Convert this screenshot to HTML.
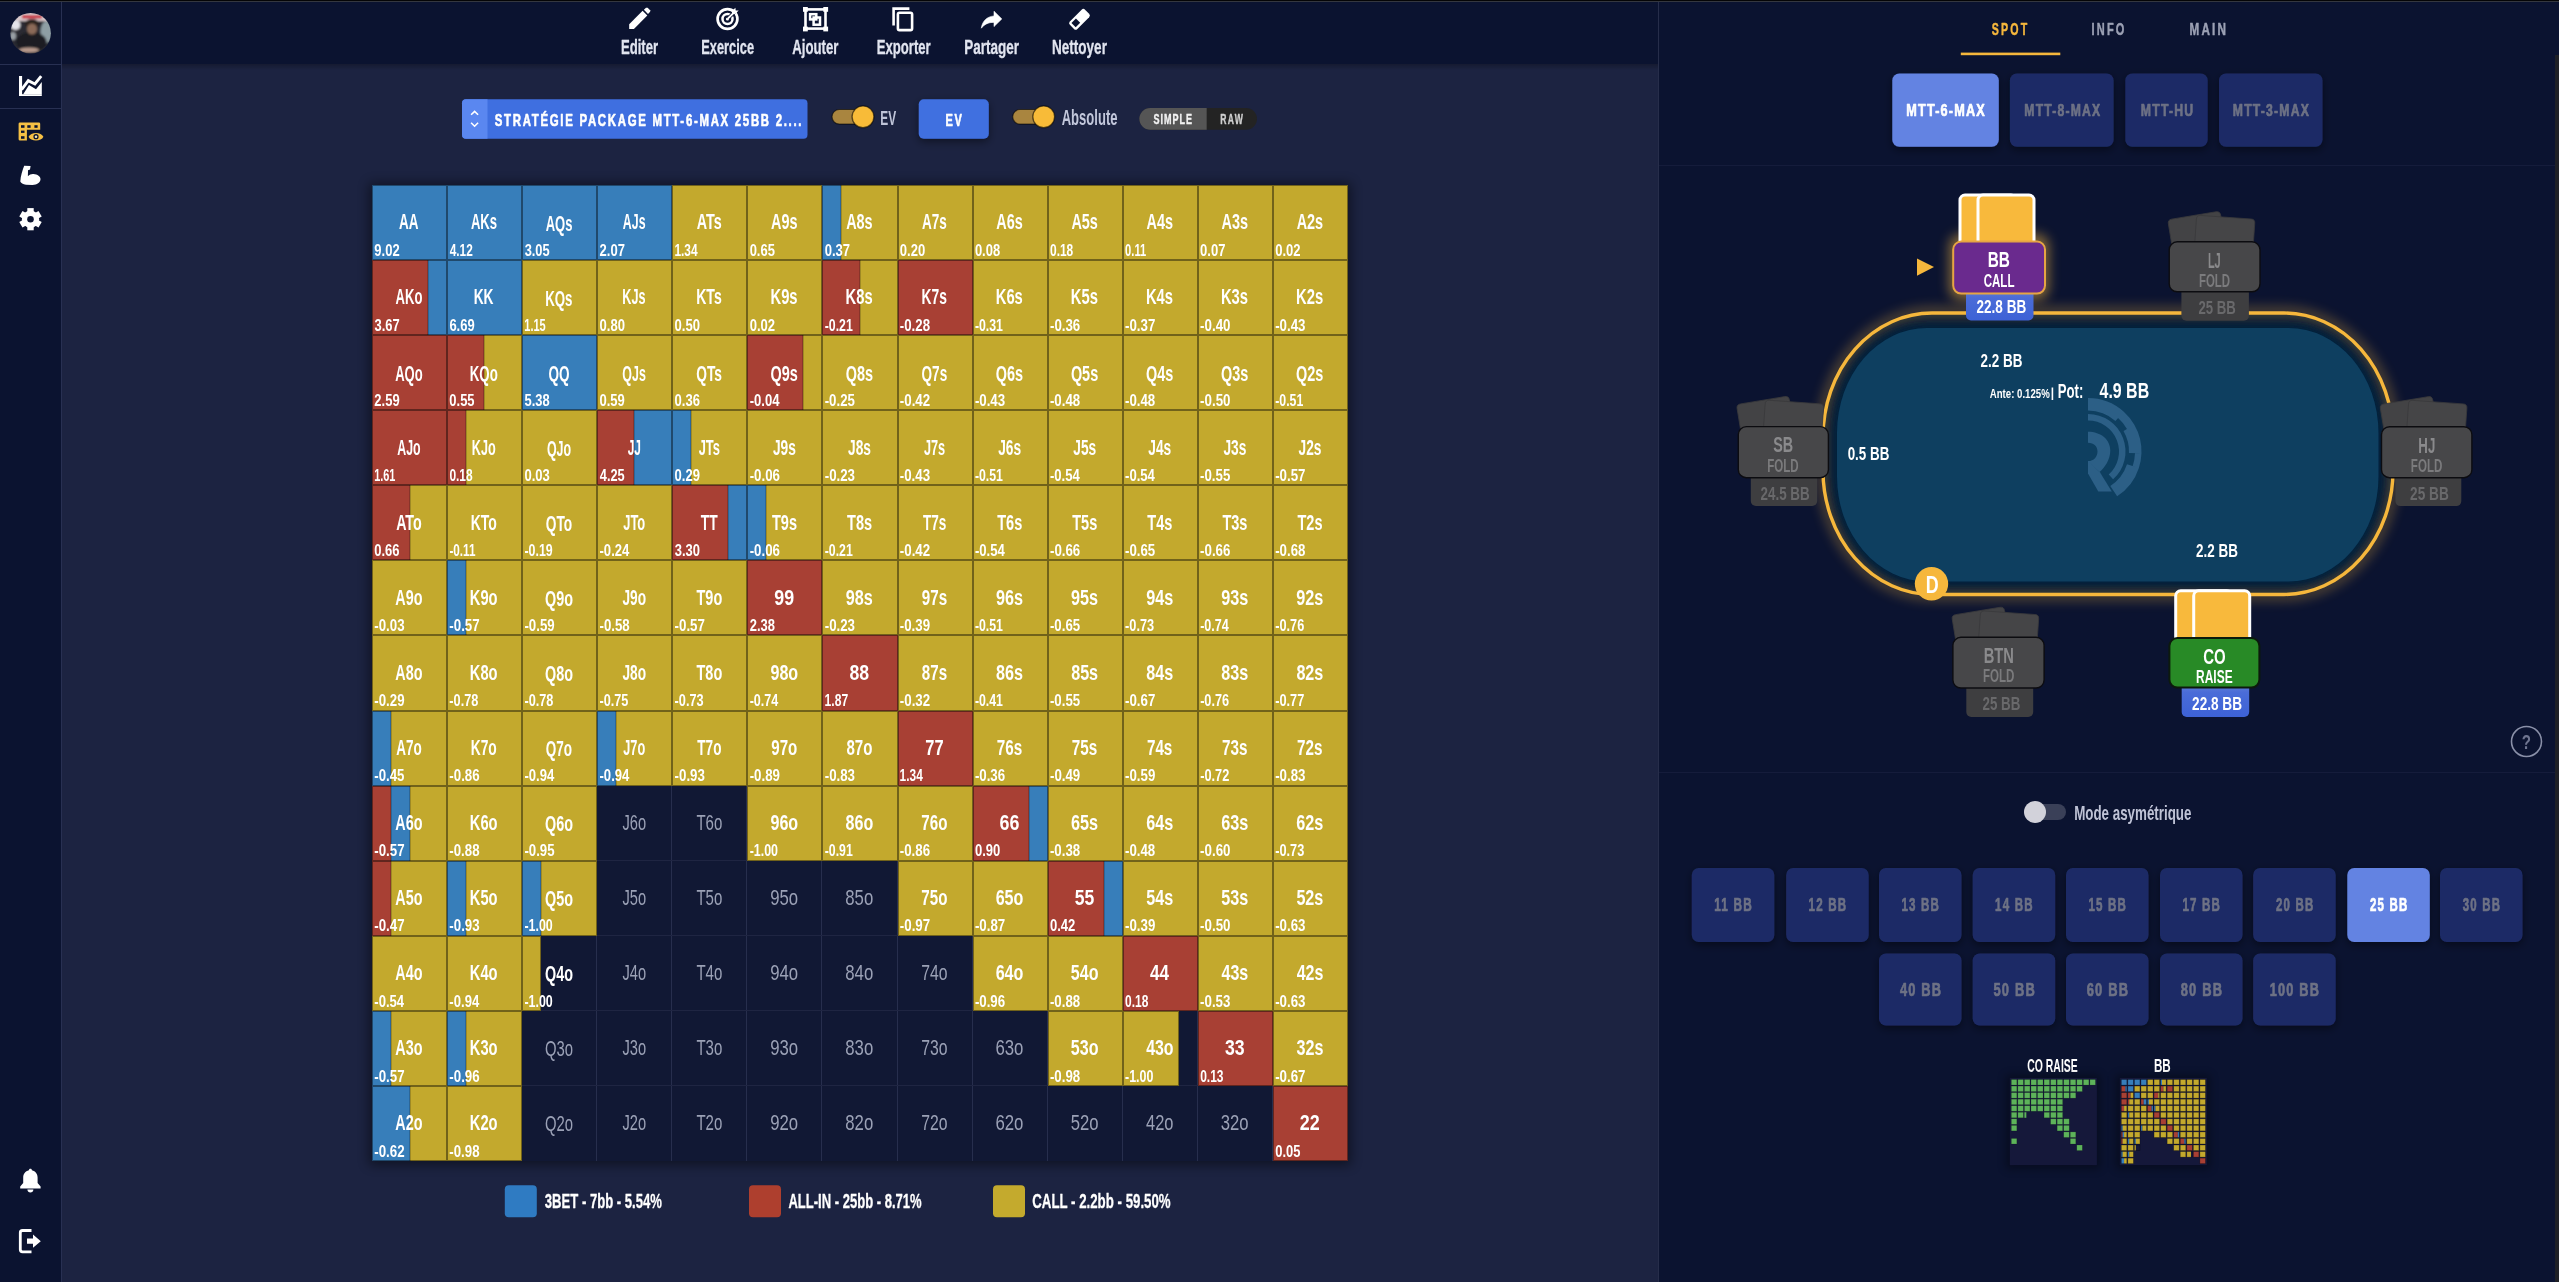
<!DOCTYPE html>
<html lang="fr"><head><meta charset="utf-8"><title>Range Viewer</title>
<style>
html,body{margin:0;padding:0;background:#1c2341;overflow:hidden;}
body{width:2559px;height:1282px;}
svg{display:block;font-family:"Liberation Sans",sans-serif;will-change:transform;}
text{font-family:"Liberation Sans",sans-serif;}
</style></head>
<body>
<svg width="2559" height="1282" viewBox="0 0 2559 1282">

<defs>
  <filter id="glow" x="-20%" y="-40%" width="140%" height="180%">
    <feGaussianBlur stdDeviation="4" result="b"/>
    <feMerge><feMergeNode in="b"/><feMergeNode in="SourceGraphic"/></feMerge>
  </filter>
  <filter id="blur6" x="-50%" y="-50%" width="200%" height="200%"><feGaussianBlur stdDeviation="6"/></filter>
  <filter id="blur4" x="-50%" y="-50%" width="200%" height="200%"><feGaussianBlur stdDeviation="4"/></filter>
  <filter id="blur3" x="-50%" y="-50%" width="200%" height="200%"><feGaussianBlur stdDeviation="3"/></filter>
  <filter id="blur2" x="-50%" y="-50%" width="200%" height="200%"><feGaussianBlur stdDeviation="2"/></filter>
  <filter id="shadow" x="-30%" y="-30%" width="160%" height="160%">
    <feDropShadow dx="0" dy="3" stdDeviation="4" flood-color="#000" flood-opacity="0.45"/>
  </filter>
  <linearGradient id="stackBlue" x1="0" y1="0" x2="0" y2="1">
    <stop offset="0" stop-color="#6b86d4"/><stop offset="0.35" stop-color="#4a6cd8"/><stop offset="1" stop-color="#3d62d6"/>
  </linearGradient>
  <linearGradient id="tbShadow" x1="0" y1="0" x2="0" y2="1">
    <stop offset="0" stop-color="#000" stop-opacity="0.25"/><stop offset="1" stop-color="#000" stop-opacity="0"/>
  </linearGradient>
  <radialGradient id="avatar" cx="0.5" cy="0.55" r="0.6">
    <stop offset="0" stop-color="#5a5560"/><stop offset="0.6" stop-color="#2c2c34"/><stop offset="1" stop-color="#1a1c24"/>
  </radialGradient>
</defs>

<rect x="0" y="0" width="2559" height="1282" fill="#1c2341"/>
<rect x="0" y="0" width="61" height="1282" fill="#0b1330"/>
<rect x="61" y="0" width="1" height="1282" fill="#283052"/>
<rect x="0" y="64" width="61" height="1" fill="#283052"/>
<rect x="0" y="108" width="61" height="1" fill="#283052"/>
<clipPath id="avc"><circle cx="30.6" cy="33.2" r="20.3"/></clipPath>
<filter id="avblur" x="-20%" y="-20%" width="140%" height="140%"><feGaussianBlur stdDeviation="0.9"/></filter>
<g clip-path="url(#avc)"><g filter="url(#avblur)"><rect x="9" y="11" width="44" height="44" fill="#2a2b33"/><rect x="16" y="12" width="32" height="9" fill="#d9c9cc"/><rect x="22" y="15.2" width="20" height="3.2" fill="#c61f32"/><ellipse cx="15.5" cy="25" rx="5" ry="5" fill="#e4e4ea"/><ellipse cx="46.5" cy="32" rx="6" ry="11" fill="#8e9ea4"/><ellipse cx="13" cy="36" rx="3" ry="4" fill="#9aa0a6"/><ellipse cx="31.5" cy="42" rx="15" ry="10" fill="#1c1c22"/><ellipse cx="32" cy="23.5" rx="7" ry="4.5" fill="#2a211c"/><ellipse cx="32" cy="29" rx="5" ry="5.5" fill="#8b6a58"/><ellipse cx="29" cy="50" rx="10" ry="2.6" fill="#b89a8c"/></g></g>
<g fill="#fff"><rect x="19" y="76" width="3.1" height="20"/><rect x="19" y="94.2" width="22.8" height="1.8"/><polygon points="23.2,94.3 29,85 36,89.3 41.8,82 41.8,94.3"/></g><polyline points="21.6,89.6 28.3,80.6 34.9,84 41.2,76.2" fill="none" stroke="#fff" stroke-width="2.9" stroke-linejoin="miter"/>
<path d="M20,122.4 H38.8 Q40.2,122.4 40.2,123.8 V129.7 H26.9 V140.6 H20 Q18.6,140.6 18.6,139.2 V123.8 Q18.6,122.4 20,122.4 Z" fill="#f6c044"/>
<rect x="21" y="125.2" width="3.5" height="2.5999999999999943" fill="#0b1330"/>
<rect x="27.3" y="125.2" width="3.3000000000000007" height="2.5999999999999943" fill="#0b1330"/>
<rect x="34.4" y="125.2" width="3.200000000000003" height="2.5999999999999943" fill="#0b1330"/>
<rect x="21" y="130.6" width="3.5" height="2.3000000000000114" fill="#0b1330"/>
<rect x="21" y="136.2" width="3.5" height="2.6000000000000227" fill="#0b1330"/>
<path d="M28.6,136.7 C30.6,131.6 41.4,131.6 43.4,136.7 C41.4,141.8 30.6,141.8 28.6,136.7 Z" fill="#f6c044"/>
<circle cx="36" cy="136.7" r="2.6" fill="#0b1330"/><circle cx="36" cy="136.7" r="1.3" fill="#f3e7b0"/>
<path d="M24.2,165.8 L30.6,166 L30,169.5 L28,170.3 L27.9,176.3 C29.5,174.5 31.5,173.8 33.5,174 C37.5,174.3 40.6,176.5 40.5,179.2 C40.3,182.6 37,184.8 32.5,184.9 L26,184.7 C23,184.3 20.8,183.2 20.3,181.6 C20.6,176 22.5,170 24.2,165.8 Z" fill="#fff"/>
<circle cx="30.5" cy="219.2" r="8.6" fill="#fff"/>
<rect x="27.3" y="208.1" width="6.4" height="11.1" fill="#fff" transform="rotate(0.0 30.5 219.2)"/>
<rect x="27.3" y="208.1" width="6.4" height="11.1" fill="#fff" transform="rotate(60.0 30.5 219.2)"/>
<rect x="27.3" y="208.1" width="6.4" height="11.1" fill="#fff" transform="rotate(120.0 30.5 219.2)"/>
<rect x="27.3" y="208.1" width="6.4" height="11.1" fill="#fff" transform="rotate(180.0 30.5 219.2)"/>
<rect x="27.3" y="208.1" width="6.4" height="11.1" fill="#fff" transform="rotate(240.0 30.5 219.2)"/>
<rect x="27.3" y="208.1" width="6.4" height="11.1" fill="#fff" transform="rotate(300.0 30.5 219.2)"/>
<circle cx="30.5" cy="219.2" r="3.3" fill="#0b1330"/>
<path d="M30.4,1168.8 C31.4,1168.8 31.9,1169.5 31.9,1170.2 C35.6,1171 37.6,1174 37.6,1177.6 L37.6,1183 L40.6,1186.5 L40.6,1188.6 L20.2,1188.6 L20.2,1186.5 L23.2,1183 L23.2,1177.6 C23.2,1174 25.2,1171 28.9,1170.2 C28.9,1169.5 29.4,1168.8 30.4,1168.8 Z" fill="#fff"/>
<path d="M27.4,1189.6 H33.4 C33.4,1191.3 32,1192.6 30.4,1192.6 C28.8,1192.6 27.4,1191.3 27.4,1189.6 Z" fill="#fff"/>
<path d="M31.5,1230.5 H22.5 Q20.3,1230.5 20.3,1232.7 V1249.6 Q20.3,1251.8 22.5,1251.8 H31.5" fill="none" stroke="#fff" stroke-width="2.8"/>
<path d="M27,1238.6 H33 V1234.6 L40.8,1241.2 L33,1247.8 V1243.8 H27 Z" fill="#fff"/>
<rect x="62" y="0" width="1596" height="64" fill="#0b1330"/>
<rect x="62" y="64" width="1596" height="6" fill="url(#tbShadow)"/>
<text x="620.90" y="53.75" font-size="20.43" font-weight="700" stroke="#e2e5f0" stroke-width="0.3" stroke-linejoin="round" textLength="37.24" lengthAdjust="spacingAndGlyphs" fill="#e2e5f0" >Editer</text>
<text x="701.21" y="53.75" font-size="20.43" font-weight="700" stroke="#e2e5f0" stroke-width="0.3" stroke-linejoin="round" textLength="52.88" lengthAdjust="spacingAndGlyphs" fill="#e2e5f0" >Exercice</text>
<text x="792.32" y="53.75" font-size="20.43" font-weight="700" stroke="#e2e5f0" stroke-width="0.3" stroke-linejoin="round" textLength="46.13" lengthAdjust="spacingAndGlyphs" fill="#e2e5f0" >Ajouter</text>
<text x="876.80" y="53.75" font-size="20.43" font-weight="700" stroke="#e2e5f0" stroke-width="0.3" stroke-linejoin="round" textLength="53.81" lengthAdjust="spacingAndGlyphs" fill="#e2e5f0" >Exporter</text>
<text x="964.27" y="53.75" font-size="20.43" font-weight="700" stroke="#e2e5f0" stroke-width="0.3" stroke-linejoin="round" textLength="54.75" lengthAdjust="spacingAndGlyphs" fill="#e2e5f0" >Partager</text>
<text x="1052.07" y="53.75" font-size="20.43" font-weight="700" stroke="#e2e5f0" stroke-width="0.3" stroke-linejoin="round" textLength="54.84" lengthAdjust="spacingAndGlyphs" fill="#e2e5f0" >Nettoyer</text>
<polygon points="629.2,28.9 629.2,24.2 642.6,10.8 647.3,15.5 633.9,28.9" fill="#fff"/>
<polygon points="643.9,9.8 646.0,7.7 647.6,7.7 650.1,10.2 650.1,11.8 648.0,13.9" fill="#fff"/>
<circle cx="727.5" cy="19.0" r="9.9" fill="none" stroke="#fff" stroke-width="2.7"/>
<circle cx="727.5" cy="19.0" r="5.0" fill="none" stroke="#fff" stroke-width="2.5"/>
<circle cx="727.5" cy="19.0" r="1.6" fill="#fff"/>
<line x1="728" y1="18.5" x2="734.8" y2="11.7" stroke="#0b1330" stroke-width="3.6"/>
<line x1="727.8" y1="18.7" x2="734.5" y2="12" stroke="#fff" stroke-width="1.9"/>
<polygon points="731.6,11.2 735.4,7.7 735.7,10.4 738.7,10.6 735.2,14.1 732.4,13.9" fill="#fff"/>
<rect x="805.5" y="9.4" width="20.0" height="19.2" fill="none" stroke="#fff" stroke-width="2.6"/>
<rect x="803" y="7" width="4.8" height="4.8" fill="#fff"/>
<rect x="823.3" y="7" width="4.8" height="4.8" fill="#fff"/>
<rect x="803" y="26.6" width="4.8" height="4.8" fill="#fff"/>
<rect x="823.3" y="26.6" width="4.8" height="4.8" fill="#fff"/>
<rect x="810.1" y="14.2" width="6.2" height="5.2" fill="none" stroke="#fff" stroke-width="2.5"/>
<rect x="813.6" y="17.5" width="6.4" height="7.2" fill="none" stroke="#fff" stroke-width="2.5"/>
<path d="M893.6,25.5 V8.6 H909.4" fill="none" stroke="#fff" stroke-width="2.6"/>
<rect x="897.9" y="12.7" width="14.2" height="17.4" rx="1.6" fill="none" stroke="#fff" stroke-width="2.6"/>
<path d="M994,11.2 L1001.8,18.9 L994,26.6 L994,22.4 C988.5,22.2 984.4,24.2 981.3,28.2 C982.3,21.2 986.8,16.5 994,16.0 Z" fill="#fff" stroke="#fff" stroke-width="0.6" stroke-linejoin="round"/>
<g transform="rotate(-45 1079.5 19.3)"><rect x="1068.8" y="14.0" width="21.4" height="10.6" rx="2.4" fill="#fff"/><rect x="1071.1" y="16.3" width="6.4" height="6.0" fill="#0b1330"/></g>
<rect x="462" y="99.3" width="345.5" height="39.5" rx="4" fill="#3f6fe0"/>
<path d="M466,99.3 H487.5 V138.8 H466 Q462,138.8 462,134.8 V103.3 Q462,99.3 466,99.3 Z" fill="#5a87f0"/>
<polyline points="471.1,114.8 474.6,111.4 478.1,114.8" fill="none" stroke="#fff" stroke-width="1.6"/>
<polyline points="471.1,122.8 474.6,126.2 478.1,122.8" fill="none" stroke="#fff" stroke-width="1.6"/>
<text x="494.76" y="125.60" font-size="16.09" font-weight="700" letter-spacing="2.40" stroke="#ffffff" stroke-width="0.6" stroke-linejoin="round" textLength="308.44" lengthAdjust="spacingAndGlyphs" fill="#ffffff" >STRATÉGIE PACKAGE MTT-6-MAX 25BB 2....</text>
<rect x="832" y="109.5" width="36" height="14.6" rx="7.3" fill="#a9853f" stroke="rgba(0,0,0,0.55)" stroke-width="1.2"/>
<circle cx="863" cy="116.8" r="10.9" fill="#f8bb38" stroke="rgba(0,0,0,0.6)" stroke-width="1.3"/>
<text x="880.23" y="124.70" font-size="21.01" font-weight="700" textLength="15.88" lengthAdjust="spacingAndGlyphs" fill="#bfc4d8" >EV</text>
<rect x="918.8" y="99.3" width="70" height="39.5" rx="5" fill="#3f6fe0" filter="url(#shadow)"/>
<text x="945.58" y="125.60" font-size="16.09" font-weight="700" letter-spacing="2.19" stroke="#ffffff" stroke-width="0.6" stroke-linejoin="round" textLength="17.72" lengthAdjust="spacingAndGlyphs" fill="#ffffff" >EV</text>
<rect x="1012.7" y="109.5" width="36.299999999999955" height="14.6" rx="7.3" fill="#a9853f" stroke="rgba(0,0,0,0.55)" stroke-width="1.2"/>
<circle cx="1043.7" cy="116.8" r="10.9" fill="#f8bb38" stroke="rgba(0,0,0,0.6)" stroke-width="1.3"/>
<text x="1061.67" y="124.90" font-size="21.30" font-weight="700" textLength="55.82" lengthAdjust="spacingAndGlyphs" fill="#c2c7db" >Absolute</text>
<rect x="1139.4" y="108" width="117.6" height="21.7" rx="10.85" fill="#232323"/>
<path d="M1150.2,108 H1206.7 V129.7 H1150.2 A10.85,10.85 0 0 1 1150.2,108 Z" fill="#555555"/>
<text x="1153.43" y="123.90" font-size="14.06" font-weight="700" letter-spacing="1.56" stroke="#f2f2f2" stroke-width="0.4" stroke-linejoin="round" textLength="39.61" lengthAdjust="spacingAndGlyphs" fill="#f2f2f2" >SIMPLE</text>
<text x="1220.34" y="123.90" font-size="14.06" font-weight="700" letter-spacing="1.96" stroke="#cfcfcf" stroke-width="0.4" stroke-linejoin="round" textLength="23.64" lengthAdjust="spacingAndGlyphs" fill="#cfcfcf" >RAW</text>
<rect x="369.0" y="183.0" width="982.00" height="982.00" fill="#000" opacity="0.45" filter="url(#blur6)"/>
<rect x="372.0" y="185.0" width="976.00" height="976.00" fill="#111834"/>
<rect x="446" y="185.0" width="1" height="976.00" fill="#272e4d"/>
<rect x="372.0" y="259" width="976.00" height="1" fill="#1f2542"/>
<rect x="521" y="185.0" width="1" height="976.00" fill="#272e4d"/>
<rect x="372.0" y="334" width="976.00" height="1" fill="#1f2542"/>
<rect x="596" y="185.0" width="1" height="976.00" fill="#272e4d"/>
<rect x="372.0" y="409" width="976.00" height="1" fill="#1f2542"/>
<rect x="671" y="185.0" width="1" height="976.00" fill="#272e4d"/>
<rect x="372.0" y="484" width="976.00" height="1" fill="#1f2542"/>
<rect x="746" y="185.0" width="1" height="976.00" fill="#272e4d"/>
<rect x="372.0" y="559" width="976.00" height="1" fill="#1f2542"/>
<rect x="821" y="185.0" width="1" height="976.00" fill="#272e4d"/>
<rect x="372.0" y="634" width="976.00" height="1" fill="#1f2542"/>
<rect x="897" y="185.0" width="1" height="976.00" fill="#272e4d"/>
<rect x="372.0" y="710" width="976.00" height="1" fill="#1f2542"/>
<rect x="972" y="185.0" width="1" height="976.00" fill="#272e4d"/>
<rect x="372.0" y="785" width="976.00" height="1" fill="#1f2542"/>
<rect x="1047" y="185.0" width="1" height="976.00" fill="#272e4d"/>
<rect x="372.0" y="860" width="976.00" height="1" fill="#1f2542"/>
<rect x="1122" y="185.0" width="1" height="976.00" fill="#272e4d"/>
<rect x="372.0" y="935" width="976.00" height="1" fill="#1f2542"/>
<rect x="1197" y="185.0" width="1" height="976.00" fill="#272e4d"/>
<rect x="372.0" y="1010" width="976.00" height="1" fill="#1f2542"/>
<rect x="1272" y="185.0" width="1" height="976.00" fill="#272e4d"/>
<rect x="372.0" y="1085" width="976.00" height="1" fill="#1f2542"/>
<rect x="372" y="185" width="75" height="75" fill="#377eba"/>
<rect x="372.5" y="185.5" width="74" height="74" fill="none" stroke="rgba(0,0,0,0.42)" stroke-width="1"/>
<rect x="447" y="185" width="75" height="75" fill="#377eba"/>
<rect x="447.5" y="185.5" width="74" height="74" fill="none" stroke="rgba(0,0,0,0.42)" stroke-width="1"/>
<rect x="522" y="185" width="75" height="75" fill="#377eba"/>
<rect x="522.5" y="185.5" width="74" height="74" fill="none" stroke="rgba(0,0,0,0.42)" stroke-width="1"/>
<rect x="597" y="185" width="75" height="75" fill="#377eba"/>
<rect x="597.5" y="185.5" width="74" height="74" fill="none" stroke="rgba(0,0,0,0.42)" stroke-width="1"/>
<rect x="672" y="185" width="75" height="75" fill="#c3a92d"/>
<rect x="672.5" y="185.5" width="74" height="74" fill="none" stroke="rgba(0,0,0,0.42)" stroke-width="1"/>
<rect x="747" y="185" width="75" height="75" fill="#c3a92d"/>
<rect x="747.5" y="185.5" width="74" height="74" fill="none" stroke="rgba(0,0,0,0.42)" stroke-width="1"/>
<rect x="822" y="185" width="19" height="75" fill="#377eba"/>
<rect x="841" y="185" width="57" height="75" fill="#c3a92d"/>
<rect x="822.5" y="185.5" width="75" height="74" fill="none" stroke="rgba(0,0,0,0.42)" stroke-width="1"/>
<rect x="840.5" y="185" width="1" height="75" fill="rgba(0,0,0,0.38)"/>
<rect x="898" y="185" width="75" height="75" fill="#c3a92d"/>
<rect x="898.5" y="185.5" width="74" height="74" fill="none" stroke="rgba(0,0,0,0.42)" stroke-width="1"/>
<rect x="973" y="185" width="75" height="75" fill="#c3a92d"/>
<rect x="973.5" y="185.5" width="74" height="74" fill="none" stroke="rgba(0,0,0,0.42)" stroke-width="1"/>
<rect x="1048" y="185" width="75" height="75" fill="#c3a92d"/>
<rect x="1048.5" y="185.5" width="74" height="74" fill="none" stroke="rgba(0,0,0,0.42)" stroke-width="1"/>
<rect x="1123" y="185" width="75" height="75" fill="#c3a92d"/>
<rect x="1123.5" y="185.5" width="74" height="74" fill="none" stroke="rgba(0,0,0,0.42)" stroke-width="1"/>
<rect x="1198" y="185" width="75" height="75" fill="#c3a92d"/>
<rect x="1198.5" y="185.5" width="74" height="74" fill="none" stroke="rgba(0,0,0,0.42)" stroke-width="1"/>
<rect x="1273" y="185" width="75" height="75" fill="#c3a92d"/>
<rect x="1273.5" y="185.5" width="74" height="74" fill="none" stroke="rgba(0,0,0,0.42)" stroke-width="1"/>
<rect x="372" y="260" width="56" height="75" fill="#a84034"/>
<rect x="428" y="260" width="19" height="75" fill="#377eba"/>
<rect x="372.5" y="260.5" width="74" height="74" fill="none" stroke="rgba(0,0,0,0.42)" stroke-width="1"/>
<rect x="427.5" y="260" width="1" height="75" fill="rgba(0,0,0,0.38)"/>
<rect x="447" y="260" width="75" height="75" fill="#377eba"/>
<rect x="447.5" y="260.5" width="74" height="74" fill="none" stroke="rgba(0,0,0,0.42)" stroke-width="1"/>
<rect x="522" y="260" width="75" height="75" fill="#c3a92d"/>
<rect x="522.5" y="260.5" width="74" height="74" fill="none" stroke="rgba(0,0,0,0.42)" stroke-width="1"/>
<rect x="597" y="260" width="75" height="75" fill="#c3a92d"/>
<rect x="597.5" y="260.5" width="74" height="74" fill="none" stroke="rgba(0,0,0,0.42)" stroke-width="1"/>
<rect x="672" y="260" width="75" height="75" fill="#c3a92d"/>
<rect x="672.5" y="260.5" width="74" height="74" fill="none" stroke="rgba(0,0,0,0.42)" stroke-width="1"/>
<rect x="747" y="260" width="75" height="75" fill="#c3a92d"/>
<rect x="747.5" y="260.5" width="74" height="74" fill="none" stroke="rgba(0,0,0,0.42)" stroke-width="1"/>
<rect x="822" y="260" width="38" height="75" fill="#a84034"/>
<rect x="860" y="260" width="38" height="75" fill="#c3a92d"/>
<rect x="822.5" y="260.5" width="75" height="74" fill="none" stroke="rgba(0,0,0,0.42)" stroke-width="1"/>
<rect x="859.5" y="260" width="1" height="75" fill="rgba(0,0,0,0.38)"/>
<rect x="898" y="260" width="75" height="75" fill="#a84034"/>
<rect x="898.5" y="260.5" width="74" height="74" fill="none" stroke="rgba(0,0,0,0.42)" stroke-width="1"/>
<rect x="973" y="260" width="75" height="75" fill="#c3a92d"/>
<rect x="973.5" y="260.5" width="74" height="74" fill="none" stroke="rgba(0,0,0,0.42)" stroke-width="1"/>
<rect x="1048" y="260" width="75" height="75" fill="#c3a92d"/>
<rect x="1048.5" y="260.5" width="74" height="74" fill="none" stroke="rgba(0,0,0,0.42)" stroke-width="1"/>
<rect x="1123" y="260" width="75" height="75" fill="#c3a92d"/>
<rect x="1123.5" y="260.5" width="74" height="74" fill="none" stroke="rgba(0,0,0,0.42)" stroke-width="1"/>
<rect x="1198" y="260" width="75" height="75" fill="#c3a92d"/>
<rect x="1198.5" y="260.5" width="74" height="74" fill="none" stroke="rgba(0,0,0,0.42)" stroke-width="1"/>
<rect x="1273" y="260" width="75" height="75" fill="#c3a92d"/>
<rect x="1273.5" y="260.5" width="74" height="74" fill="none" stroke="rgba(0,0,0,0.42)" stroke-width="1"/>
<rect x="372" y="335" width="75" height="75" fill="#a84034"/>
<rect x="372.5" y="335.5" width="74" height="74" fill="none" stroke="rgba(0,0,0,0.42)" stroke-width="1"/>
<rect x="447" y="335" width="37" height="75" fill="#a84034"/>
<rect x="484" y="335" width="38" height="75" fill="#c3a92d"/>
<rect x="447.5" y="335.5" width="74" height="74" fill="none" stroke="rgba(0,0,0,0.42)" stroke-width="1"/>
<rect x="483.5" y="335" width="1" height="75" fill="rgba(0,0,0,0.38)"/>
<rect x="522" y="335" width="75" height="75" fill="#377eba"/>
<rect x="522.5" y="335.5" width="74" height="74" fill="none" stroke="rgba(0,0,0,0.42)" stroke-width="1"/>
<rect x="597" y="335" width="75" height="75" fill="#c3a92d"/>
<rect x="597.5" y="335.5" width="74" height="74" fill="none" stroke="rgba(0,0,0,0.42)" stroke-width="1"/>
<rect x="672" y="335" width="75" height="75" fill="#c3a92d"/>
<rect x="672.5" y="335.5" width="74" height="74" fill="none" stroke="rgba(0,0,0,0.42)" stroke-width="1"/>
<rect x="747" y="335" width="56" height="75" fill="#a84034"/>
<rect x="803" y="335" width="19" height="75" fill="#c3a92d"/>
<rect x="747.5" y="335.5" width="74" height="74" fill="none" stroke="rgba(0,0,0,0.42)" stroke-width="1"/>
<rect x="802.5" y="335" width="1" height="75" fill="rgba(0,0,0,0.38)"/>
<rect x="822" y="335" width="76" height="75" fill="#c3a92d"/>
<rect x="822.5" y="335.5" width="75" height="74" fill="none" stroke="rgba(0,0,0,0.42)" stroke-width="1"/>
<rect x="898" y="335" width="75" height="75" fill="#c3a92d"/>
<rect x="898.5" y="335.5" width="74" height="74" fill="none" stroke="rgba(0,0,0,0.42)" stroke-width="1"/>
<rect x="973" y="335" width="75" height="75" fill="#c3a92d"/>
<rect x="973.5" y="335.5" width="74" height="74" fill="none" stroke="rgba(0,0,0,0.42)" stroke-width="1"/>
<rect x="1048" y="335" width="75" height="75" fill="#c3a92d"/>
<rect x="1048.5" y="335.5" width="74" height="74" fill="none" stroke="rgba(0,0,0,0.42)" stroke-width="1"/>
<rect x="1123" y="335" width="75" height="75" fill="#c3a92d"/>
<rect x="1123.5" y="335.5" width="74" height="74" fill="none" stroke="rgba(0,0,0,0.42)" stroke-width="1"/>
<rect x="1198" y="335" width="75" height="75" fill="#c3a92d"/>
<rect x="1198.5" y="335.5" width="74" height="74" fill="none" stroke="rgba(0,0,0,0.42)" stroke-width="1"/>
<rect x="1273" y="335" width="75" height="75" fill="#c3a92d"/>
<rect x="1273.5" y="335.5" width="74" height="74" fill="none" stroke="rgba(0,0,0,0.42)" stroke-width="1"/>
<rect x="372" y="410" width="75" height="75" fill="#a84034"/>
<rect x="372.5" y="410.5" width="74" height="74" fill="none" stroke="rgba(0,0,0,0.42)" stroke-width="1"/>
<rect x="447" y="410" width="19" height="75" fill="#a84034"/>
<rect x="466" y="410" width="56" height="75" fill="#c3a92d"/>
<rect x="447.5" y="410.5" width="74" height="74" fill="none" stroke="rgba(0,0,0,0.42)" stroke-width="1"/>
<rect x="465.5" y="410" width="1" height="75" fill="rgba(0,0,0,0.38)"/>
<rect x="522" y="410" width="75" height="75" fill="#c3a92d"/>
<rect x="522.5" y="410.5" width="74" height="74" fill="none" stroke="rgba(0,0,0,0.42)" stroke-width="1"/>
<rect x="597" y="410" width="37" height="75" fill="#a84034"/>
<rect x="634" y="410" width="38" height="75" fill="#377eba"/>
<rect x="597.5" y="410.5" width="74" height="74" fill="none" stroke="rgba(0,0,0,0.42)" stroke-width="1"/>
<rect x="633.5" y="410" width="1" height="75" fill="rgba(0,0,0,0.38)"/>
<rect x="672" y="410" width="19" height="75" fill="#377eba"/>
<rect x="691" y="410" width="56" height="75" fill="#c3a92d"/>
<rect x="672.5" y="410.5" width="74" height="74" fill="none" stroke="rgba(0,0,0,0.42)" stroke-width="1"/>
<rect x="690.5" y="410" width="1" height="75" fill="rgba(0,0,0,0.38)"/>
<rect x="747" y="410" width="75" height="75" fill="#c3a92d"/>
<rect x="747.5" y="410.5" width="74" height="74" fill="none" stroke="rgba(0,0,0,0.42)" stroke-width="1"/>
<rect x="822" y="410" width="76" height="75" fill="#c3a92d"/>
<rect x="822.5" y="410.5" width="75" height="74" fill="none" stroke="rgba(0,0,0,0.42)" stroke-width="1"/>
<rect x="898" y="410" width="75" height="75" fill="#c3a92d"/>
<rect x="898.5" y="410.5" width="74" height="74" fill="none" stroke="rgba(0,0,0,0.42)" stroke-width="1"/>
<rect x="973" y="410" width="75" height="75" fill="#c3a92d"/>
<rect x="973.5" y="410.5" width="74" height="74" fill="none" stroke="rgba(0,0,0,0.42)" stroke-width="1"/>
<rect x="1048" y="410" width="75" height="75" fill="#c3a92d"/>
<rect x="1048.5" y="410.5" width="74" height="74" fill="none" stroke="rgba(0,0,0,0.42)" stroke-width="1"/>
<rect x="1123" y="410" width="75" height="75" fill="#c3a92d"/>
<rect x="1123.5" y="410.5" width="74" height="74" fill="none" stroke="rgba(0,0,0,0.42)" stroke-width="1"/>
<rect x="1198" y="410" width="75" height="75" fill="#c3a92d"/>
<rect x="1198.5" y="410.5" width="74" height="74" fill="none" stroke="rgba(0,0,0,0.42)" stroke-width="1"/>
<rect x="1273" y="410" width="75" height="75" fill="#c3a92d"/>
<rect x="1273.5" y="410.5" width="74" height="74" fill="none" stroke="rgba(0,0,0,0.42)" stroke-width="1"/>
<rect x="372" y="485" width="38" height="75" fill="#a84034"/>
<rect x="410" y="485" width="37" height="75" fill="#c3a92d"/>
<rect x="372.5" y="485.5" width="74" height="74" fill="none" stroke="rgba(0,0,0,0.42)" stroke-width="1"/>
<rect x="409.5" y="485" width="1" height="75" fill="rgba(0,0,0,0.38)"/>
<rect x="447" y="485" width="75" height="75" fill="#c3a92d"/>
<rect x="447.5" y="485.5" width="74" height="74" fill="none" stroke="rgba(0,0,0,0.42)" stroke-width="1"/>
<rect x="522" y="485" width="75" height="75" fill="#c3a92d"/>
<rect x="522.5" y="485.5" width="74" height="74" fill="none" stroke="rgba(0,0,0,0.42)" stroke-width="1"/>
<rect x="597" y="485" width="75" height="75" fill="#c3a92d"/>
<rect x="597.5" y="485.5" width="74" height="74" fill="none" stroke="rgba(0,0,0,0.42)" stroke-width="1"/>
<rect x="672" y="485" width="56" height="75" fill="#a84034"/>
<rect x="728" y="485" width="19" height="75" fill="#377eba"/>
<rect x="672.5" y="485.5" width="74" height="74" fill="none" stroke="rgba(0,0,0,0.42)" stroke-width="1"/>
<rect x="727.5" y="485" width="1" height="75" fill="rgba(0,0,0,0.38)"/>
<rect x="747" y="485" width="19" height="75" fill="#377eba"/>
<rect x="766" y="485" width="56" height="75" fill="#c3a92d"/>
<rect x="747.5" y="485.5" width="74" height="74" fill="none" stroke="rgba(0,0,0,0.42)" stroke-width="1"/>
<rect x="765.5" y="485" width="1" height="75" fill="rgba(0,0,0,0.38)"/>
<rect x="822" y="485" width="76" height="75" fill="#c3a92d"/>
<rect x="822.5" y="485.5" width="75" height="74" fill="none" stroke="rgba(0,0,0,0.42)" stroke-width="1"/>
<rect x="898" y="485" width="75" height="75" fill="#c3a92d"/>
<rect x="898.5" y="485.5" width="74" height="74" fill="none" stroke="rgba(0,0,0,0.42)" stroke-width="1"/>
<rect x="973" y="485" width="75" height="75" fill="#c3a92d"/>
<rect x="973.5" y="485.5" width="74" height="74" fill="none" stroke="rgba(0,0,0,0.42)" stroke-width="1"/>
<rect x="1048" y="485" width="75" height="75" fill="#c3a92d"/>
<rect x="1048.5" y="485.5" width="74" height="74" fill="none" stroke="rgba(0,0,0,0.42)" stroke-width="1"/>
<rect x="1123" y="485" width="75" height="75" fill="#c3a92d"/>
<rect x="1123.5" y="485.5" width="74" height="74" fill="none" stroke="rgba(0,0,0,0.42)" stroke-width="1"/>
<rect x="1198" y="485" width="75" height="75" fill="#c3a92d"/>
<rect x="1198.5" y="485.5" width="74" height="74" fill="none" stroke="rgba(0,0,0,0.42)" stroke-width="1"/>
<rect x="1273" y="485" width="75" height="75" fill="#c3a92d"/>
<rect x="1273.5" y="485.5" width="74" height="74" fill="none" stroke="rgba(0,0,0,0.42)" stroke-width="1"/>
<rect x="372" y="560" width="75" height="75" fill="#c3a92d"/>
<rect x="372.5" y="560.5" width="74" height="74" fill="none" stroke="rgba(0,0,0,0.42)" stroke-width="1"/>
<rect x="447" y="560" width="19" height="75" fill="#377eba"/>
<rect x="466" y="560" width="56" height="75" fill="#c3a92d"/>
<rect x="447.5" y="560.5" width="74" height="74" fill="none" stroke="rgba(0,0,0,0.42)" stroke-width="1"/>
<rect x="465.5" y="560" width="1" height="75" fill="rgba(0,0,0,0.38)"/>
<rect x="522" y="560" width="75" height="75" fill="#c3a92d"/>
<rect x="522.5" y="560.5" width="74" height="74" fill="none" stroke="rgba(0,0,0,0.42)" stroke-width="1"/>
<rect x="597" y="560" width="75" height="75" fill="#c3a92d"/>
<rect x="597.5" y="560.5" width="74" height="74" fill="none" stroke="rgba(0,0,0,0.42)" stroke-width="1"/>
<rect x="672" y="560" width="75" height="75" fill="#c3a92d"/>
<rect x="672.5" y="560.5" width="74" height="74" fill="none" stroke="rgba(0,0,0,0.42)" stroke-width="1"/>
<rect x="747" y="560" width="75" height="75" fill="#a84034"/>
<rect x="747.5" y="560.5" width="74" height="74" fill="none" stroke="rgba(0,0,0,0.42)" stroke-width="1"/>
<rect x="822" y="560" width="76" height="75" fill="#c3a92d"/>
<rect x="822.5" y="560.5" width="75" height="74" fill="none" stroke="rgba(0,0,0,0.42)" stroke-width="1"/>
<rect x="898" y="560" width="75" height="75" fill="#c3a92d"/>
<rect x="898.5" y="560.5" width="74" height="74" fill="none" stroke="rgba(0,0,0,0.42)" stroke-width="1"/>
<rect x="973" y="560" width="75" height="75" fill="#c3a92d"/>
<rect x="973.5" y="560.5" width="74" height="74" fill="none" stroke="rgba(0,0,0,0.42)" stroke-width="1"/>
<rect x="1048" y="560" width="75" height="75" fill="#c3a92d"/>
<rect x="1048.5" y="560.5" width="74" height="74" fill="none" stroke="rgba(0,0,0,0.42)" stroke-width="1"/>
<rect x="1123" y="560" width="75" height="75" fill="#c3a92d"/>
<rect x="1123.5" y="560.5" width="74" height="74" fill="none" stroke="rgba(0,0,0,0.42)" stroke-width="1"/>
<rect x="1198" y="560" width="75" height="75" fill="#c3a92d"/>
<rect x="1198.5" y="560.5" width="74" height="74" fill="none" stroke="rgba(0,0,0,0.42)" stroke-width="1"/>
<rect x="1273" y="560" width="75" height="75" fill="#c3a92d"/>
<rect x="1273.5" y="560.5" width="74" height="74" fill="none" stroke="rgba(0,0,0,0.42)" stroke-width="1"/>
<rect x="372" y="635" width="75" height="76" fill="#c3a92d"/>
<rect x="372.5" y="635.5" width="74" height="75" fill="none" stroke="rgba(0,0,0,0.42)" stroke-width="1"/>
<rect x="447" y="635" width="75" height="76" fill="#c3a92d"/>
<rect x="447.5" y="635.5" width="74" height="75" fill="none" stroke="rgba(0,0,0,0.42)" stroke-width="1"/>
<rect x="522" y="635" width="75" height="76" fill="#c3a92d"/>
<rect x="522.5" y="635.5" width="74" height="75" fill="none" stroke="rgba(0,0,0,0.42)" stroke-width="1"/>
<rect x="597" y="635" width="75" height="76" fill="#c3a92d"/>
<rect x="597.5" y="635.5" width="74" height="75" fill="none" stroke="rgba(0,0,0,0.42)" stroke-width="1"/>
<rect x="672" y="635" width="75" height="76" fill="#c3a92d"/>
<rect x="672.5" y="635.5" width="74" height="75" fill="none" stroke="rgba(0,0,0,0.42)" stroke-width="1"/>
<rect x="747" y="635" width="75" height="76" fill="#c3a92d"/>
<rect x="747.5" y="635.5" width="74" height="75" fill="none" stroke="rgba(0,0,0,0.42)" stroke-width="1"/>
<rect x="822" y="635" width="76" height="76" fill="#a84034"/>
<rect x="822.5" y="635.5" width="75" height="75" fill="none" stroke="rgba(0,0,0,0.42)" stroke-width="1"/>
<rect x="898" y="635" width="75" height="76" fill="#c3a92d"/>
<rect x="898.5" y="635.5" width="74" height="75" fill="none" stroke="rgba(0,0,0,0.42)" stroke-width="1"/>
<rect x="973" y="635" width="75" height="76" fill="#c3a92d"/>
<rect x="973.5" y="635.5" width="74" height="75" fill="none" stroke="rgba(0,0,0,0.42)" stroke-width="1"/>
<rect x="1048" y="635" width="75" height="76" fill="#c3a92d"/>
<rect x="1048.5" y="635.5" width="74" height="75" fill="none" stroke="rgba(0,0,0,0.42)" stroke-width="1"/>
<rect x="1123" y="635" width="75" height="76" fill="#c3a92d"/>
<rect x="1123.5" y="635.5" width="74" height="75" fill="none" stroke="rgba(0,0,0,0.42)" stroke-width="1"/>
<rect x="1198" y="635" width="75" height="76" fill="#c3a92d"/>
<rect x="1198.5" y="635.5" width="74" height="75" fill="none" stroke="rgba(0,0,0,0.42)" stroke-width="1"/>
<rect x="1273" y="635" width="75" height="76" fill="#c3a92d"/>
<rect x="1273.5" y="635.5" width="74" height="75" fill="none" stroke="rgba(0,0,0,0.42)" stroke-width="1"/>
<rect x="372" y="711" width="19" height="75" fill="#377eba"/>
<rect x="391" y="711" width="56" height="75" fill="#c3a92d"/>
<rect x="372.5" y="711.5" width="74" height="74" fill="none" stroke="rgba(0,0,0,0.42)" stroke-width="1"/>
<rect x="390.5" y="711" width="1" height="75" fill="rgba(0,0,0,0.38)"/>
<rect x="447" y="711" width="75" height="75" fill="#c3a92d"/>
<rect x="447.5" y="711.5" width="74" height="74" fill="none" stroke="rgba(0,0,0,0.42)" stroke-width="1"/>
<rect x="522" y="711" width="75" height="75" fill="#c3a92d"/>
<rect x="522.5" y="711.5" width="74" height="74" fill="none" stroke="rgba(0,0,0,0.42)" stroke-width="1"/>
<rect x="597" y="711" width="19" height="75" fill="#377eba"/>
<rect x="616" y="711" width="56" height="75" fill="#c3a92d"/>
<rect x="597.5" y="711.5" width="74" height="74" fill="none" stroke="rgba(0,0,0,0.42)" stroke-width="1"/>
<rect x="615.5" y="711" width="1" height="75" fill="rgba(0,0,0,0.38)"/>
<rect x="672" y="711" width="75" height="75" fill="#c3a92d"/>
<rect x="672.5" y="711.5" width="74" height="74" fill="none" stroke="rgba(0,0,0,0.42)" stroke-width="1"/>
<rect x="747" y="711" width="75" height="75" fill="#c3a92d"/>
<rect x="747.5" y="711.5" width="74" height="74" fill="none" stroke="rgba(0,0,0,0.42)" stroke-width="1"/>
<rect x="822" y="711" width="76" height="75" fill="#c3a92d"/>
<rect x="822.5" y="711.5" width="75" height="74" fill="none" stroke="rgba(0,0,0,0.42)" stroke-width="1"/>
<rect x="898" y="711" width="75" height="75" fill="#a84034"/>
<rect x="898.5" y="711.5" width="74" height="74" fill="none" stroke="rgba(0,0,0,0.42)" stroke-width="1"/>
<rect x="973" y="711" width="75" height="75" fill="#c3a92d"/>
<rect x="973.5" y="711.5" width="74" height="74" fill="none" stroke="rgba(0,0,0,0.42)" stroke-width="1"/>
<rect x="1048" y="711" width="75" height="75" fill="#c3a92d"/>
<rect x="1048.5" y="711.5" width="74" height="74" fill="none" stroke="rgba(0,0,0,0.42)" stroke-width="1"/>
<rect x="1123" y="711" width="75" height="75" fill="#c3a92d"/>
<rect x="1123.5" y="711.5" width="74" height="74" fill="none" stroke="rgba(0,0,0,0.42)" stroke-width="1"/>
<rect x="1198" y="711" width="75" height="75" fill="#c3a92d"/>
<rect x="1198.5" y="711.5" width="74" height="74" fill="none" stroke="rgba(0,0,0,0.42)" stroke-width="1"/>
<rect x="1273" y="711" width="75" height="75" fill="#c3a92d"/>
<rect x="1273.5" y="711.5" width="74" height="74" fill="none" stroke="rgba(0,0,0,0.42)" stroke-width="1"/>
<rect x="372" y="786" width="19" height="75" fill="#a84034"/>
<rect x="391" y="786" width="19" height="75" fill="#377eba"/>
<rect x="410" y="786" width="37" height="75" fill="#c3a92d"/>
<rect x="372.5" y="786.5" width="74" height="74" fill="none" stroke="rgba(0,0,0,0.42)" stroke-width="1"/>
<rect x="390.5" y="786" width="1" height="75" fill="rgba(0,0,0,0.38)"/>
<rect x="409.5" y="786" width="1" height="75" fill="rgba(0,0,0,0.38)"/>
<rect x="447" y="786" width="75" height="75" fill="#c3a92d"/>
<rect x="447.5" y="786.5" width="74" height="74" fill="none" stroke="rgba(0,0,0,0.42)" stroke-width="1"/>
<rect x="522" y="786" width="75" height="75" fill="#c3a92d"/>
<rect x="522.5" y="786.5" width="74" height="74" fill="none" stroke="rgba(0,0,0,0.42)" stroke-width="1"/>
<rect x="747" y="786" width="75" height="75" fill="#c3a92d"/>
<rect x="747.5" y="786.5" width="74" height="74" fill="none" stroke="rgba(0,0,0,0.42)" stroke-width="1"/>
<rect x="822" y="786" width="76" height="75" fill="#c3a92d"/>
<rect x="822.5" y="786.5" width="75" height="74" fill="none" stroke="rgba(0,0,0,0.42)" stroke-width="1"/>
<rect x="898" y="786" width="75" height="75" fill="#c3a92d"/>
<rect x="898.5" y="786.5" width="74" height="74" fill="none" stroke="rgba(0,0,0,0.42)" stroke-width="1"/>
<rect x="973" y="786" width="56" height="75" fill="#a84034"/>
<rect x="1029" y="786" width="19" height="75" fill="#377eba"/>
<rect x="973.5" y="786.5" width="74" height="74" fill="none" stroke="rgba(0,0,0,0.42)" stroke-width="1"/>
<rect x="1028.5" y="786" width="1" height="75" fill="rgba(0,0,0,0.38)"/>
<rect x="1048" y="786" width="75" height="75" fill="#c3a92d"/>
<rect x="1048.5" y="786.5" width="74" height="74" fill="none" stroke="rgba(0,0,0,0.42)" stroke-width="1"/>
<rect x="1123" y="786" width="75" height="75" fill="#c3a92d"/>
<rect x="1123.5" y="786.5" width="74" height="74" fill="none" stroke="rgba(0,0,0,0.42)" stroke-width="1"/>
<rect x="1198" y="786" width="75" height="75" fill="#c3a92d"/>
<rect x="1198.5" y="786.5" width="74" height="74" fill="none" stroke="rgba(0,0,0,0.42)" stroke-width="1"/>
<rect x="1273" y="786" width="75" height="75" fill="#c3a92d"/>
<rect x="1273.5" y="786.5" width="74" height="74" fill="none" stroke="rgba(0,0,0,0.42)" stroke-width="1"/>
<rect x="372" y="861" width="19" height="75" fill="#a84034"/>
<rect x="391" y="861" width="56" height="75" fill="#c3a92d"/>
<rect x="372.5" y="861.5" width="74" height="74" fill="none" stroke="rgba(0,0,0,0.42)" stroke-width="1"/>
<rect x="390.5" y="861" width="1" height="75" fill="rgba(0,0,0,0.38)"/>
<rect x="447" y="861" width="19" height="75" fill="#377eba"/>
<rect x="466" y="861" width="56" height="75" fill="#c3a92d"/>
<rect x="447.5" y="861.5" width="74" height="74" fill="none" stroke="rgba(0,0,0,0.42)" stroke-width="1"/>
<rect x="465.5" y="861" width="1" height="75" fill="rgba(0,0,0,0.38)"/>
<rect x="522" y="861" width="19" height="75" fill="#377eba"/>
<rect x="541" y="861" width="56" height="75" fill="#c3a92d"/>
<rect x="522.5" y="861.5" width="74" height="74" fill="none" stroke="rgba(0,0,0,0.42)" stroke-width="1"/>
<rect x="540.5" y="861" width="1" height="75" fill="rgba(0,0,0,0.38)"/>
<rect x="898" y="861" width="75" height="75" fill="#c3a92d"/>
<rect x="898.5" y="861.5" width="74" height="74" fill="none" stroke="rgba(0,0,0,0.42)" stroke-width="1"/>
<rect x="973" y="861" width="75" height="75" fill="#c3a92d"/>
<rect x="973.5" y="861.5" width="74" height="74" fill="none" stroke="rgba(0,0,0,0.42)" stroke-width="1"/>
<rect x="1048" y="861" width="56" height="75" fill="#a84034"/>
<rect x="1104" y="861" width="19" height="75" fill="#377eba"/>
<rect x="1048.5" y="861.5" width="74" height="74" fill="none" stroke="rgba(0,0,0,0.42)" stroke-width="1"/>
<rect x="1103.5" y="861" width="1" height="75" fill="rgba(0,0,0,0.38)"/>
<rect x="1123" y="861" width="75" height="75" fill="#c3a92d"/>
<rect x="1123.5" y="861.5" width="74" height="74" fill="none" stroke="rgba(0,0,0,0.42)" stroke-width="1"/>
<rect x="1198" y="861" width="75" height="75" fill="#c3a92d"/>
<rect x="1198.5" y="861.5" width="74" height="74" fill="none" stroke="rgba(0,0,0,0.42)" stroke-width="1"/>
<rect x="1273" y="861" width="75" height="75" fill="#c3a92d"/>
<rect x="1273.5" y="861.5" width="74" height="74" fill="none" stroke="rgba(0,0,0,0.42)" stroke-width="1"/>
<rect x="372" y="936" width="75" height="75" fill="#c3a92d"/>
<rect x="372.5" y="936.5" width="74" height="74" fill="none" stroke="rgba(0,0,0,0.42)" stroke-width="1"/>
<rect x="447" y="936" width="75" height="75" fill="#c3a92d"/>
<rect x="447.5" y="936.5" width="74" height="74" fill="none" stroke="rgba(0,0,0,0.42)" stroke-width="1"/>
<rect x="522" y="936" width="19" height="75" fill="#c3a92d"/>
<rect x="522.5" y="936.5" width="18" height="74" fill="none" stroke="rgba(0,0,0,0.42)" stroke-width="1"/>
<rect x="973" y="936" width="75" height="75" fill="#c3a92d"/>
<rect x="973.5" y="936.5" width="74" height="74" fill="none" stroke="rgba(0,0,0,0.42)" stroke-width="1"/>
<rect x="1048" y="936" width="75" height="75" fill="#c3a92d"/>
<rect x="1048.5" y="936.5" width="74" height="74" fill="none" stroke="rgba(0,0,0,0.42)" stroke-width="1"/>
<rect x="1123" y="936" width="75" height="75" fill="#a84034"/>
<rect x="1123.5" y="936.5" width="74" height="74" fill="none" stroke="rgba(0,0,0,0.42)" stroke-width="1"/>
<rect x="1198" y="936" width="75" height="75" fill="#c3a92d"/>
<rect x="1198.5" y="936.5" width="74" height="74" fill="none" stroke="rgba(0,0,0,0.42)" stroke-width="1"/>
<rect x="1273" y="936" width="75" height="75" fill="#c3a92d"/>
<rect x="1273.5" y="936.5" width="74" height="74" fill="none" stroke="rgba(0,0,0,0.42)" stroke-width="1"/>
<rect x="372" y="1011" width="19" height="75" fill="#377eba"/>
<rect x="391" y="1011" width="56" height="75" fill="#c3a92d"/>
<rect x="372.5" y="1011.5" width="74" height="74" fill="none" stroke="rgba(0,0,0,0.42)" stroke-width="1"/>
<rect x="390.5" y="1011" width="1" height="75" fill="rgba(0,0,0,0.38)"/>
<rect x="447" y="1011" width="19" height="75" fill="#377eba"/>
<rect x="466" y="1011" width="56" height="75" fill="#c3a92d"/>
<rect x="447.5" y="1011.5" width="74" height="74" fill="none" stroke="rgba(0,0,0,0.42)" stroke-width="1"/>
<rect x="465.5" y="1011" width="1" height="75" fill="rgba(0,0,0,0.38)"/>
<rect x="1048" y="1011" width="75" height="75" fill="#c3a92d"/>
<rect x="1048.5" y="1011.5" width="74" height="74" fill="none" stroke="rgba(0,0,0,0.42)" stroke-width="1"/>
<rect x="1123" y="1011" width="56" height="75" fill="#c3a92d"/>
<rect x="1123.5" y="1011.5" width="55" height="74" fill="none" stroke="rgba(0,0,0,0.42)" stroke-width="1"/>
<rect x="1198" y="1011" width="75" height="75" fill="#a84034"/>
<rect x="1198.5" y="1011.5" width="74" height="74" fill="none" stroke="rgba(0,0,0,0.42)" stroke-width="1"/>
<rect x="1273" y="1011" width="75" height="75" fill="#c3a92d"/>
<rect x="1273.5" y="1011.5" width="74" height="74" fill="none" stroke="rgba(0,0,0,0.42)" stroke-width="1"/>
<rect x="372" y="1086" width="38" height="75" fill="#377eba"/>
<rect x="410" y="1086" width="37" height="75" fill="#c3a92d"/>
<rect x="372.5" y="1086.5" width="74" height="74" fill="none" stroke="rgba(0,0,0,0.42)" stroke-width="1"/>
<rect x="409.5" y="1086" width="1" height="75" fill="rgba(0,0,0,0.38)"/>
<rect x="447" y="1086" width="75" height="75" fill="#c3a92d"/>
<rect x="447.5" y="1086.5" width="74" height="74" fill="none" stroke="rgba(0,0,0,0.42)" stroke-width="1"/>
<rect x="1273" y="1086" width="75" height="75" fill="#a84034"/>
<rect x="1273.5" y="1086.5" width="74" height="74" fill="none" stroke="rgba(0,0,0,0.42)" stroke-width="1"/>
<text x="399.11" y="229.40" font-size="22.03" font-weight="700" textLength="19.51" lengthAdjust="spacingAndGlyphs" fill="#ffffff" >AA</text>
<text x="374.34" y="255.80" font-size="17.25" font-weight="700" textLength="25.31" lengthAdjust="spacingAndGlyphs" fill="#ffffff" >9.02</text>
<text x="470.93" y="229.40" font-size="22.03" font-weight="700" textLength="26.17" lengthAdjust="spacingAndGlyphs" fill="#ffffff" >AKs</text>
<text x="449.70" y="255.80" font-size="17.25" font-weight="700" textLength="23.05" lengthAdjust="spacingAndGlyphs" fill="#ffffff" >4.12</text>
<text x="545.71" y="230.50" font-size="22.03" font-weight="700" textLength="26.78" lengthAdjust="spacingAndGlyphs" fill="#ffffff" >AQs</text>
<text x="524.63" y="255.80" font-size="17.25" font-weight="700" textLength="24.98" lengthAdjust="spacingAndGlyphs" fill="#ffffff" >3.05</text>
<text x="622.82" y="229.40" font-size="22.03" font-weight="700" textLength="22.69" lengthAdjust="spacingAndGlyphs" fill="#ffffff" >AJs</text>
<text x="599.58" y="255.80" font-size="17.25" font-weight="700" textLength="25.31" lengthAdjust="spacingAndGlyphs" fill="#ffffff" >2.07</text>
<text x="696.78" y="229.40" font-size="22.03" font-weight="700" textLength="24.96" lengthAdjust="spacingAndGlyphs" fill="#ffffff" >ATs</text>
<text x="674.39" y="255.80" font-size="17.25" font-weight="700" textLength="23.17" lengthAdjust="spacingAndGlyphs" fill="#ffffff" >1.34</text>
<text x="771.09" y="229.40" font-size="22.03" font-weight="700" textLength="26.47" lengthAdjust="spacingAndGlyphs" fill="#ffffff" >A9s</text>
<text x="749.67" y="255.80" font-size="17.25" font-weight="700" textLength="25.18" lengthAdjust="spacingAndGlyphs" fill="#ffffff" >0.65</text>
<text x="846.17" y="229.40" font-size="22.03" font-weight="700" textLength="26.47" lengthAdjust="spacingAndGlyphs" fill="#ffffff" >A8s</text>
<text x="824.74" y="255.80" font-size="17.25" font-weight="700" textLength="25.38" lengthAdjust="spacingAndGlyphs" fill="#ffffff" >0.37</text>
<text x="922.07" y="229.40" font-size="22.03" font-weight="700" textLength="24.80" lengthAdjust="spacingAndGlyphs" fill="#ffffff" >A7s</text>
<text x="899.82" y="255.80" font-size="17.25" font-weight="700" textLength="25.38" lengthAdjust="spacingAndGlyphs" fill="#ffffff" >0.20</text>
<text x="996.33" y="229.40" font-size="22.03" font-weight="700" textLength="26.47" lengthAdjust="spacingAndGlyphs" fill="#ffffff" >A6s</text>
<text x="974.90" y="255.80" font-size="17.25" font-weight="700" textLength="25.25" lengthAdjust="spacingAndGlyphs" fill="#ffffff" >0.08</text>
<text x="1071.40" y="229.40" font-size="22.03" font-weight="700" textLength="26.47" lengthAdjust="spacingAndGlyphs" fill="#ffffff" >A5s</text>
<text x="1050.01" y="255.80" font-size="17.25" font-weight="700" textLength="23.24" lengthAdjust="spacingAndGlyphs" fill="#ffffff" >0.18</text>
<text x="1146.48" y="229.40" font-size="22.03" font-weight="700" textLength="26.47" lengthAdjust="spacingAndGlyphs" fill="#ffffff" >A4s</text>
<text x="1125.12" y="255.80" font-size="17.25" font-weight="700" textLength="21.07" lengthAdjust="spacingAndGlyphs" fill="#ffffff" >0.11</text>
<text x="1221.56" y="229.40" font-size="22.03" font-weight="700" textLength="26.47" lengthAdjust="spacingAndGlyphs" fill="#ffffff" >A3s</text>
<text x="1200.12" y="255.80" font-size="17.25" font-weight="700" textLength="25.38" lengthAdjust="spacingAndGlyphs" fill="#ffffff" >0.07</text>
<text x="1296.63" y="229.40" font-size="22.03" font-weight="700" textLength="26.47" lengthAdjust="spacingAndGlyphs" fill="#ffffff" >A2s</text>
<text x="1275.20" y="255.80" font-size="17.25" font-weight="700" textLength="25.38" lengthAdjust="spacingAndGlyphs" fill="#ffffff" >0.02</text>
<text x="395.52" y="304.48" font-size="22.03" font-weight="700" textLength="26.84" lengthAdjust="spacingAndGlyphs" fill="#ffffff" >AKo</text>
<text x="374.48" y="330.88" font-size="17.25" font-weight="700" textLength="25.18" lengthAdjust="spacingAndGlyphs" fill="#ffffff" >3.67</text>
<text x="473.64" y="304.48" font-size="22.03" font-weight="700" textLength="19.86" lengthAdjust="spacingAndGlyphs" fill="#ffffff" >KK</text>
<text x="449.42" y="330.88" font-size="17.25" font-weight="700" textLength="25.25" lengthAdjust="spacingAndGlyphs" fill="#ffffff" >6.69</text>
<text x="545.17" y="305.58" font-size="22.03" font-weight="700" textLength="27.33" lengthAdjust="spacingAndGlyphs" fill="#ffffff" >KQs</text>
<text x="524.29" y="330.88" font-size="17.25" font-weight="700" textLength="21.40" lengthAdjust="spacingAndGlyphs" fill="#ffffff" >1.15</text>
<text x="622.30" y="304.48" font-size="22.03" font-weight="700" textLength="23.21" lengthAdjust="spacingAndGlyphs" fill="#ffffff" >KJs</text>
<text x="599.51" y="330.88" font-size="17.25" font-weight="700" textLength="25.38" lengthAdjust="spacingAndGlyphs" fill="#ffffff" >0.80</text>
<text x="696.23" y="304.48" font-size="22.03" font-weight="700" textLength="25.49" lengthAdjust="spacingAndGlyphs" fill="#ffffff" >KTs</text>
<text x="674.59" y="330.88" font-size="17.25" font-weight="700" textLength="25.38" lengthAdjust="spacingAndGlyphs" fill="#ffffff" >0.50</text>
<text x="770.50" y="304.48" font-size="22.03" font-weight="700" textLength="27.08" lengthAdjust="spacingAndGlyphs" fill="#ffffff" >K9s</text>
<text x="749.66" y="330.88" font-size="17.25" font-weight="700" textLength="25.38" lengthAdjust="spacingAndGlyphs" fill="#ffffff" >0.02</text>
<text x="845.57" y="304.48" font-size="22.03" font-weight="700" textLength="27.08" lengthAdjust="spacingAndGlyphs" fill="#ffffff" >K8s</text>
<text x="824.77" y="330.88" font-size="17.25" font-weight="700" textLength="28.02" lengthAdjust="spacingAndGlyphs" fill="#ffffff" >-0.21</text>
<text x="921.51" y="304.48" font-size="22.03" font-weight="700" textLength="25.38" lengthAdjust="spacingAndGlyphs" fill="#ffffff" >K7s</text>
<text x="899.81" y="330.88" font-size="17.25" font-weight="700" textLength="30.20" lengthAdjust="spacingAndGlyphs" fill="#ffffff" >-0.28</text>
<text x="995.73" y="304.48" font-size="22.03" font-weight="700" textLength="27.08" lengthAdjust="spacingAndGlyphs" fill="#ffffff" >K6s</text>
<text x="974.92" y="330.88" font-size="17.25" font-weight="700" textLength="28.02" lengthAdjust="spacingAndGlyphs" fill="#ffffff" >-0.31</text>
<text x="1070.80" y="304.48" font-size="22.03" font-weight="700" textLength="27.08" lengthAdjust="spacingAndGlyphs" fill="#ffffff" >K5s</text>
<text x="1049.96" y="330.88" font-size="17.25" font-weight="700" textLength="30.27" lengthAdjust="spacingAndGlyphs" fill="#ffffff" >-0.36</text>
<text x="1145.88" y="304.48" font-size="22.03" font-weight="700" textLength="27.08" lengthAdjust="spacingAndGlyphs" fill="#ffffff" >K4s</text>
<text x="1125.04" y="330.88" font-size="17.25" font-weight="700" textLength="30.34" lengthAdjust="spacingAndGlyphs" fill="#ffffff" >-0.37</text>
<text x="1220.96" y="304.48" font-size="22.03" font-weight="700" textLength="27.08" lengthAdjust="spacingAndGlyphs" fill="#ffffff" >K3s</text>
<text x="1200.11" y="330.88" font-size="17.25" font-weight="700" textLength="30.34" lengthAdjust="spacingAndGlyphs" fill="#ffffff" >-0.40</text>
<text x="1296.03" y="304.48" font-size="22.03" font-weight="700" textLength="27.08" lengthAdjust="spacingAndGlyphs" fill="#ffffff" >K2s</text>
<text x="1275.19" y="330.88" font-size="17.25" font-weight="700" textLength="30.27" lengthAdjust="spacingAndGlyphs" fill="#ffffff" >-0.43</text>
<text x="395.21" y="380.65" font-size="22.03" font-weight="700" textLength="27.46" lengthAdjust="spacingAndGlyphs" fill="#ffffff" >AQo</text>
<text x="374.35" y="405.95" font-size="17.25" font-weight="700" textLength="25.25" lengthAdjust="spacingAndGlyphs" fill="#ffffff" >2.59</text>
<text x="469.75" y="380.65" font-size="22.03" font-weight="700" textLength="28.00" lengthAdjust="spacingAndGlyphs" fill="#ffffff" >KQo</text>
<text x="449.36" y="405.95" font-size="17.25" font-weight="700" textLength="25.18" lengthAdjust="spacingAndGlyphs" fill="#ffffff" >0.55</text>
<text x="548.46" y="380.65" font-size="22.03" font-weight="700" textLength="21.08" lengthAdjust="spacingAndGlyphs" fill="#ffffff" >QQ</text>
<text x="524.57" y="405.95" font-size="17.25" font-weight="700" textLength="25.11" lengthAdjust="spacingAndGlyphs" fill="#ffffff" >5.38</text>
<text x="622.32" y="380.65" font-size="22.03" font-weight="700" textLength="23.49" lengthAdjust="spacingAndGlyphs" fill="#ffffff" >QJs</text>
<text x="599.51" y="405.95" font-size="17.25" font-weight="700" textLength="25.31" lengthAdjust="spacingAndGlyphs" fill="#ffffff" >0.59</text>
<text x="696.28" y="380.65" font-size="22.03" font-weight="700" textLength="25.73" lengthAdjust="spacingAndGlyphs" fill="#ffffff" >QTs</text>
<text x="674.59" y="405.95" font-size="17.25" font-weight="700" textLength="25.31" lengthAdjust="spacingAndGlyphs" fill="#ffffff" >0.36</text>
<text x="770.57" y="380.65" font-size="22.03" font-weight="700" textLength="27.30" lengthAdjust="spacingAndGlyphs" fill="#ffffff" >Q9s</text>
<text x="749.66" y="405.95" font-size="17.25" font-weight="700" textLength="29.86" lengthAdjust="spacingAndGlyphs" fill="#ffffff" >-0.04</text>
<text x="845.65" y="380.65" font-size="22.03" font-weight="700" textLength="27.30" lengthAdjust="spacingAndGlyphs" fill="#ffffff" >Q8s</text>
<text x="824.73" y="405.95" font-size="17.25" font-weight="700" textLength="30.13" lengthAdjust="spacingAndGlyphs" fill="#ffffff" >-0.25</text>
<text x="921.57" y="380.65" font-size="22.03" font-weight="700" textLength="25.63" lengthAdjust="spacingAndGlyphs" fill="#ffffff" >Q7s</text>
<text x="899.81" y="405.95" font-size="17.25" font-weight="700" textLength="30.34" lengthAdjust="spacingAndGlyphs" fill="#ffffff" >-0.42</text>
<text x="995.80" y="380.65" font-size="22.03" font-weight="700" textLength="27.30" lengthAdjust="spacingAndGlyphs" fill="#ffffff" >Q6s</text>
<text x="974.88" y="405.95" font-size="17.25" font-weight="700" textLength="30.27" lengthAdjust="spacingAndGlyphs" fill="#ffffff" >-0.43</text>
<text x="1070.88" y="380.65" font-size="22.03" font-weight="700" textLength="27.30" lengthAdjust="spacingAndGlyphs" fill="#ffffff" >Q5s</text>
<text x="1049.96" y="405.95" font-size="17.25" font-weight="700" textLength="30.20" lengthAdjust="spacingAndGlyphs" fill="#ffffff" >-0.48</text>
<text x="1145.96" y="380.65" font-size="22.03" font-weight="700" textLength="27.30" lengthAdjust="spacingAndGlyphs" fill="#ffffff" >Q4s</text>
<text x="1125.04" y="405.95" font-size="17.25" font-weight="700" textLength="30.20" lengthAdjust="spacingAndGlyphs" fill="#ffffff" >-0.48</text>
<text x="1221.03" y="380.65" font-size="22.03" font-weight="700" textLength="27.30" lengthAdjust="spacingAndGlyphs" fill="#ffffff" >Q3s</text>
<text x="1200.11" y="405.95" font-size="17.25" font-weight="700" textLength="30.34" lengthAdjust="spacingAndGlyphs" fill="#ffffff" >-0.50</text>
<text x="1296.11" y="380.65" font-size="22.03" font-weight="700" textLength="27.30" lengthAdjust="spacingAndGlyphs" fill="#ffffff" >Q2s</text>
<text x="1275.23" y="405.95" font-size="17.25" font-weight="700" textLength="28.02" lengthAdjust="spacingAndGlyphs" fill="#ffffff" >-0.51</text>
<text x="397.24" y="454.63" font-size="22.03" font-weight="700" textLength="23.37" lengthAdjust="spacingAndGlyphs" fill="#ffffff" >AJo</text>
<text x="374.14" y="481.03" font-size="17.25" font-weight="700" textLength="21.27" lengthAdjust="spacingAndGlyphs" fill="#ffffff" >1.61</text>
<text x="471.81" y="454.63" font-size="22.03" font-weight="700" textLength="23.89" lengthAdjust="spacingAndGlyphs" fill="#ffffff" >KJo</text>
<text x="449.40" y="481.03" font-size="17.25" font-weight="700" textLength="23.24" lengthAdjust="spacingAndGlyphs" fill="#ffffff" >0.18</text>
<text x="546.91" y="455.73" font-size="22.03" font-weight="700" textLength="24.17" lengthAdjust="spacingAndGlyphs" fill="#ffffff" >QJo</text>
<text x="524.43" y="481.03" font-size="17.25" font-weight="700" textLength="25.31" lengthAdjust="spacingAndGlyphs" fill="#ffffff" >0.03</text>
<text x="627.73" y="454.63" font-size="22.03" font-weight="700" textLength="13.30" lengthAdjust="spacingAndGlyphs" fill="#ffffff" >JJ</text>
<text x="599.84" y="481.03" font-size="17.25" font-weight="700" textLength="24.85" lengthAdjust="spacingAndGlyphs" fill="#ffffff" >4.25</text>
<text x="698.65" y="454.63" font-size="22.03" font-weight="700" textLength="21.29" lengthAdjust="spacingAndGlyphs" fill="#ffffff" >JTs</text>
<text x="674.59" y="481.03" font-size="17.25" font-weight="700" textLength="25.31" lengthAdjust="spacingAndGlyphs" fill="#ffffff" >0.29</text>
<text x="772.96" y="454.63" font-size="22.03" font-weight="700" textLength="22.92" lengthAdjust="spacingAndGlyphs" fill="#ffffff" >J9s</text>
<text x="749.65" y="481.03" font-size="17.25" font-weight="700" textLength="30.27" lengthAdjust="spacingAndGlyphs" fill="#ffffff" >-0.06</text>
<text x="848.04" y="454.63" font-size="22.03" font-weight="700" textLength="22.92" lengthAdjust="spacingAndGlyphs" fill="#ffffff" >J8s</text>
<text x="824.73" y="481.03" font-size="17.25" font-weight="700" textLength="30.27" lengthAdjust="spacingAndGlyphs" fill="#ffffff" >-0.23</text>
<text x="923.93" y="454.63" font-size="22.03" font-weight="700" textLength="21.26" lengthAdjust="spacingAndGlyphs" fill="#ffffff" >J7s</text>
<text x="899.81" y="481.03" font-size="17.25" font-weight="700" textLength="30.27" lengthAdjust="spacingAndGlyphs" fill="#ffffff" >-0.43</text>
<text x="998.19" y="454.63" font-size="22.03" font-weight="700" textLength="22.92" lengthAdjust="spacingAndGlyphs" fill="#ffffff" >J6s</text>
<text x="974.92" y="481.03" font-size="17.25" font-weight="700" textLength="28.02" lengthAdjust="spacingAndGlyphs" fill="#ffffff" >-0.51</text>
<text x="1073.27" y="454.63" font-size="22.03" font-weight="700" textLength="22.92" lengthAdjust="spacingAndGlyphs" fill="#ffffff" >J5s</text>
<text x="1049.97" y="481.03" font-size="17.25" font-weight="700" textLength="29.86" lengthAdjust="spacingAndGlyphs" fill="#ffffff" >-0.54</text>
<text x="1148.34" y="454.63" font-size="22.03" font-weight="700" textLength="22.92" lengthAdjust="spacingAndGlyphs" fill="#ffffff" >J4s</text>
<text x="1125.05" y="481.03" font-size="17.25" font-weight="700" textLength="29.86" lengthAdjust="spacingAndGlyphs" fill="#ffffff" >-0.54</text>
<text x="1223.42" y="454.63" font-size="22.03" font-weight="700" textLength="22.92" lengthAdjust="spacingAndGlyphs" fill="#ffffff" >J3s</text>
<text x="1200.12" y="481.03" font-size="17.25" font-weight="700" textLength="30.13" lengthAdjust="spacingAndGlyphs" fill="#ffffff" >-0.55</text>
<text x="1298.50" y="454.63" font-size="22.03" font-weight="700" textLength="22.92" lengthAdjust="spacingAndGlyphs" fill="#ffffff" >J2s</text>
<text x="1275.19" y="481.03" font-size="17.25" font-weight="700" textLength="30.34" lengthAdjust="spacingAndGlyphs" fill="#ffffff" >-0.57</text>
<text x="396.13" y="529.71" font-size="22.03" font-weight="700" textLength="25.63" lengthAdjust="spacingAndGlyphs" fill="#ffffff" >ATo</text>
<text x="374.28" y="556.11" font-size="17.25" font-weight="700" textLength="25.31" lengthAdjust="spacingAndGlyphs" fill="#ffffff" >0.66</text>
<text x="470.66" y="529.71" font-size="22.03" font-weight="700" textLength="26.17" lengthAdjust="spacingAndGlyphs" fill="#ffffff" >KTo</text>
<text x="449.41" y="556.11" font-size="17.25" font-weight="700" textLength="26.04" lengthAdjust="spacingAndGlyphs" fill="#ffffff" >-0.11</text>
<text x="545.79" y="530.81" font-size="22.03" font-weight="700" textLength="26.41" lengthAdjust="spacingAndGlyphs" fill="#ffffff" >QTo</text>
<text x="524.46" y="556.11" font-size="17.25" font-weight="700" textLength="28.27" lengthAdjust="spacingAndGlyphs" fill="#ffffff" >-0.19</text>
<text x="623.24" y="529.71" font-size="22.03" font-weight="700" textLength="21.97" lengthAdjust="spacingAndGlyphs" fill="#ffffff" >JTo</text>
<text x="599.51" y="556.11" font-size="17.25" font-weight="700" textLength="29.86" lengthAdjust="spacingAndGlyphs" fill="#ffffff" >-0.24</text>
<text x="700.72" y="529.71" font-size="22.03" font-weight="700" textLength="16.87" lengthAdjust="spacingAndGlyphs" fill="#ffffff" >TT</text>
<text x="674.78" y="556.11" font-size="17.25" font-weight="700" textLength="25.18" lengthAdjust="spacingAndGlyphs" fill="#ffffff" >3.30</text>
<text x="771.96" y="529.71" font-size="22.03" font-weight="700" textLength="25.02" lengthAdjust="spacingAndGlyphs" fill="#ffffff" >T9s</text>
<text x="749.65" y="556.11" font-size="17.25" font-weight="700" textLength="30.27" lengthAdjust="spacingAndGlyphs" fill="#ffffff" >-0.06</text>
<text x="847.03" y="529.71" font-size="22.03" font-weight="700" textLength="25.02" lengthAdjust="spacingAndGlyphs" fill="#ffffff" >T8s</text>
<text x="824.77" y="556.11" font-size="17.25" font-weight="700" textLength="28.02" lengthAdjust="spacingAndGlyphs" fill="#ffffff" >-0.21</text>
<text x="922.92" y="529.71" font-size="22.03" font-weight="700" textLength="23.36" lengthAdjust="spacingAndGlyphs" fill="#ffffff" >T7s</text>
<text x="899.81" y="556.11" font-size="17.25" font-weight="700" textLength="30.34" lengthAdjust="spacingAndGlyphs" fill="#ffffff" >-0.42</text>
<text x="997.19" y="529.71" font-size="22.03" font-weight="700" textLength="25.02" lengthAdjust="spacingAndGlyphs" fill="#ffffff" >T6s</text>
<text x="974.89" y="556.11" font-size="17.25" font-weight="700" textLength="29.86" lengthAdjust="spacingAndGlyphs" fill="#ffffff" >-0.54</text>
<text x="1072.26" y="529.71" font-size="22.03" font-weight="700" textLength="25.02" lengthAdjust="spacingAndGlyphs" fill="#ffffff" >T5s</text>
<text x="1049.96" y="556.11" font-size="17.25" font-weight="700" textLength="30.27" lengthAdjust="spacingAndGlyphs" fill="#ffffff" >-0.66</text>
<text x="1147.34" y="529.71" font-size="22.03" font-weight="700" textLength="25.02" lengthAdjust="spacingAndGlyphs" fill="#ffffff" >T4s</text>
<text x="1125.04" y="556.11" font-size="17.25" font-weight="700" textLength="30.13" lengthAdjust="spacingAndGlyphs" fill="#ffffff" >-0.65</text>
<text x="1222.42" y="529.71" font-size="22.03" font-weight="700" textLength="25.02" lengthAdjust="spacingAndGlyphs" fill="#ffffff" >T3s</text>
<text x="1200.11" y="556.11" font-size="17.25" font-weight="700" textLength="30.27" lengthAdjust="spacingAndGlyphs" fill="#ffffff" >-0.66</text>
<text x="1297.49" y="529.71" font-size="22.03" font-weight="700" textLength="25.02" lengthAdjust="spacingAndGlyphs" fill="#ffffff" >T2s</text>
<text x="1275.19" y="556.11" font-size="17.25" font-weight="700" textLength="30.20" lengthAdjust="spacingAndGlyphs" fill="#ffffff" >-0.68</text>
<text x="395.37" y="604.78" font-size="22.03" font-weight="700" textLength="27.14" lengthAdjust="spacingAndGlyphs" fill="#ffffff" >A9o</text>
<text x="374.27" y="631.18" font-size="17.25" font-weight="700" textLength="30.27" lengthAdjust="spacingAndGlyphs" fill="#ffffff" >-0.03</text>
<text x="469.85" y="604.78" font-size="22.03" font-weight="700" textLength="27.75" lengthAdjust="spacingAndGlyphs" fill="#ffffff" >K9o</text>
<text x="449.34" y="631.18" font-size="17.25" font-weight="700" textLength="30.34" lengthAdjust="spacingAndGlyphs" fill="#ffffff" >-0.57</text>
<text x="545.00" y="605.88" font-size="22.03" font-weight="700" textLength="27.98" lengthAdjust="spacingAndGlyphs" fill="#ffffff" >Q9o</text>
<text x="524.42" y="631.18" font-size="17.25" font-weight="700" textLength="30.27" lengthAdjust="spacingAndGlyphs" fill="#ffffff" >-0.59</text>
<text x="622.46" y="604.78" font-size="22.03" font-weight="700" textLength="23.60" lengthAdjust="spacingAndGlyphs" fill="#ffffff" >J9o</text>
<text x="599.50" y="631.18" font-size="17.25" font-weight="700" textLength="30.20" lengthAdjust="spacingAndGlyphs" fill="#ffffff" >-0.58</text>
<text x="696.54" y="604.78" font-size="22.03" font-weight="700" textLength="25.69" lengthAdjust="spacingAndGlyphs" fill="#ffffff" >T9o</text>
<text x="674.58" y="631.18" font-size="17.25" font-weight="700" textLength="30.34" lengthAdjust="spacingAndGlyphs" fill="#ffffff" >-0.57</text>
<text x="774.33" y="604.78" font-size="22.03" font-weight="700" textLength="19.83" lengthAdjust="spacingAndGlyphs" fill="#ffffff" >99</text>
<text x="749.73" y="631.18" font-size="17.25" font-weight="700" textLength="25.18" lengthAdjust="spacingAndGlyphs" fill="#ffffff" >2.38</text>
<text x="845.85" y="604.78" font-size="22.03" font-weight="700" textLength="27.04" lengthAdjust="spacingAndGlyphs" fill="#ffffff" >98s</text>
<text x="824.73" y="631.18" font-size="17.25" font-weight="700" textLength="30.27" lengthAdjust="spacingAndGlyphs" fill="#ffffff" >-0.23</text>
<text x="921.77" y="604.78" font-size="22.03" font-weight="700" textLength="25.35" lengthAdjust="spacingAndGlyphs" fill="#ffffff" >97s</text>
<text x="899.81" y="631.18" font-size="17.25" font-weight="700" textLength="30.27" lengthAdjust="spacingAndGlyphs" fill="#ffffff" >-0.39</text>
<text x="996.00" y="604.78" font-size="22.03" font-weight="700" textLength="27.04" lengthAdjust="spacingAndGlyphs" fill="#ffffff" >96s</text>
<text x="974.92" y="631.18" font-size="17.25" font-weight="700" textLength="28.02" lengthAdjust="spacingAndGlyphs" fill="#ffffff" >-0.51</text>
<text x="1071.08" y="604.78" font-size="22.03" font-weight="700" textLength="27.04" lengthAdjust="spacingAndGlyphs" fill="#ffffff" >95s</text>
<text x="1049.96" y="631.18" font-size="17.25" font-weight="700" textLength="30.13" lengthAdjust="spacingAndGlyphs" fill="#ffffff" >-0.65</text>
<text x="1146.16" y="604.78" font-size="22.03" font-weight="700" textLength="27.04" lengthAdjust="spacingAndGlyphs" fill="#ffffff" >94s</text>
<text x="1125.06" y="631.18" font-size="17.25" font-weight="700" textLength="29.05" lengthAdjust="spacingAndGlyphs" fill="#ffffff" >-0.73</text>
<text x="1221.24" y="604.78" font-size="22.03" font-weight="700" textLength="27.04" lengthAdjust="spacingAndGlyphs" fill="#ffffff" >93s</text>
<text x="1200.14" y="631.18" font-size="17.25" font-weight="700" textLength="28.66" lengthAdjust="spacingAndGlyphs" fill="#ffffff" >-0.74</text>
<text x="1296.31" y="604.78" font-size="22.03" font-weight="700" textLength="27.04" lengthAdjust="spacingAndGlyphs" fill="#ffffff" >92s</text>
<text x="1275.21" y="631.18" font-size="17.25" font-weight="700" textLength="29.05" lengthAdjust="spacingAndGlyphs" fill="#ffffff" >-0.76</text>
<text x="395.37" y="679.86" font-size="22.03" font-weight="700" textLength="27.14" lengthAdjust="spacingAndGlyphs" fill="#ffffff" >A8o</text>
<text x="374.27" y="706.26" font-size="17.25" font-weight="700" textLength="30.27" lengthAdjust="spacingAndGlyphs" fill="#ffffff" >-0.29</text>
<text x="469.85" y="679.86" font-size="22.03" font-weight="700" textLength="27.75" lengthAdjust="spacingAndGlyphs" fill="#ffffff" >K8o</text>
<text x="449.37" y="706.26" font-size="17.25" font-weight="700" textLength="28.98" lengthAdjust="spacingAndGlyphs" fill="#ffffff" >-0.78</text>
<text x="545.00" y="680.96" font-size="22.03" font-weight="700" textLength="27.98" lengthAdjust="spacingAndGlyphs" fill="#ffffff" >Q8o</text>
<text x="524.45" y="706.26" font-size="17.25" font-weight="700" textLength="28.98" lengthAdjust="spacingAndGlyphs" fill="#ffffff" >-0.78</text>
<text x="622.46" y="679.86" font-size="22.03" font-weight="700" textLength="23.60" lengthAdjust="spacingAndGlyphs" fill="#ffffff" >J8o</text>
<text x="599.52" y="706.26" font-size="17.25" font-weight="700" textLength="28.92" lengthAdjust="spacingAndGlyphs" fill="#ffffff" >-0.75</text>
<text x="696.54" y="679.86" font-size="22.03" font-weight="700" textLength="25.69" lengthAdjust="spacingAndGlyphs" fill="#ffffff" >T8o</text>
<text x="674.60" y="706.26" font-size="17.25" font-weight="700" textLength="29.05" lengthAdjust="spacingAndGlyphs" fill="#ffffff" >-0.73</text>
<text x="770.44" y="679.86" font-size="22.03" font-weight="700" textLength="27.71" lengthAdjust="spacingAndGlyphs" fill="#ffffff" >98o</text>
<text x="749.68" y="706.26" font-size="17.25" font-weight="700" textLength="28.66" lengthAdjust="spacingAndGlyphs" fill="#ffffff" >-0.74</text>
<text x="849.50" y="679.86" font-size="22.03" font-weight="700" textLength="19.65" lengthAdjust="spacingAndGlyphs" fill="#ffffff" >88</text>
<text x="824.53" y="706.26" font-size="17.25" font-weight="700" textLength="23.61" lengthAdjust="spacingAndGlyphs" fill="#ffffff" >1.87</text>
<text x="921.84" y="679.86" font-size="22.03" font-weight="700" textLength="25.27" lengthAdjust="spacingAndGlyphs" fill="#ffffff" >87s</text>
<text x="899.81" y="706.26" font-size="17.25" font-weight="700" textLength="30.34" lengthAdjust="spacingAndGlyphs" fill="#ffffff" >-0.32</text>
<text x="996.09" y="679.86" font-size="22.03" font-weight="700" textLength="26.95" lengthAdjust="spacingAndGlyphs" fill="#ffffff" >86s</text>
<text x="974.92" y="706.26" font-size="17.25" font-weight="700" textLength="28.02" lengthAdjust="spacingAndGlyphs" fill="#ffffff" >-0.41</text>
<text x="1071.16" y="679.86" font-size="22.03" font-weight="700" textLength="26.95" lengthAdjust="spacingAndGlyphs" fill="#ffffff" >85s</text>
<text x="1049.96" y="706.26" font-size="17.25" font-weight="700" textLength="30.13" lengthAdjust="spacingAndGlyphs" fill="#ffffff" >-0.55</text>
<text x="1146.24" y="679.86" font-size="22.03" font-weight="700" textLength="26.95" lengthAdjust="spacingAndGlyphs" fill="#ffffff" >84s</text>
<text x="1125.04" y="706.26" font-size="17.25" font-weight="700" textLength="30.34" lengthAdjust="spacingAndGlyphs" fill="#ffffff" >-0.67</text>
<text x="1221.32" y="679.86" font-size="22.03" font-weight="700" textLength="26.95" lengthAdjust="spacingAndGlyphs" fill="#ffffff" >83s</text>
<text x="1200.14" y="706.26" font-size="17.25" font-weight="700" textLength="29.05" lengthAdjust="spacingAndGlyphs" fill="#ffffff" >-0.76</text>
<text x="1296.39" y="679.86" font-size="22.03" font-weight="700" textLength="26.95" lengthAdjust="spacingAndGlyphs" fill="#ffffff" >82s</text>
<text x="1275.21" y="706.26" font-size="17.25" font-weight="700" textLength="29.11" lengthAdjust="spacingAndGlyphs" fill="#ffffff" >-0.77</text>
<text x="396.19" y="754.94" font-size="22.03" font-weight="700" textLength="25.48" lengthAdjust="spacingAndGlyphs" fill="#ffffff" >A7o</text>
<text x="374.27" y="781.34" font-size="17.25" font-weight="700" textLength="30.13" lengthAdjust="spacingAndGlyphs" fill="#ffffff" >-0.45</text>
<text x="470.71" y="754.94" font-size="22.03" font-weight="700" textLength="26.05" lengthAdjust="spacingAndGlyphs" fill="#ffffff" >K7o</text>
<text x="449.35" y="781.34" font-size="17.25" font-weight="700" textLength="30.27" lengthAdjust="spacingAndGlyphs" fill="#ffffff" >-0.86</text>
<text x="545.84" y="756.04" font-size="22.03" font-weight="700" textLength="26.30" lengthAdjust="spacingAndGlyphs" fill="#ffffff" >Q7o</text>
<text x="524.43" y="781.34" font-size="17.25" font-weight="700" textLength="29.86" lengthAdjust="spacingAndGlyphs" fill="#ffffff" >-0.94</text>
<text x="623.28" y="754.94" font-size="22.03" font-weight="700" textLength="21.94" lengthAdjust="spacingAndGlyphs" fill="#ffffff" >J7o</text>
<text x="599.51" y="781.34" font-size="17.25" font-weight="700" textLength="29.86" lengthAdjust="spacingAndGlyphs" fill="#ffffff" >-0.94</text>
<text x="697.35" y="754.94" font-size="22.03" font-weight="700" textLength="24.04" lengthAdjust="spacingAndGlyphs" fill="#ffffff" >T7o</text>
<text x="674.58" y="781.34" font-size="17.25" font-weight="700" textLength="30.27" lengthAdjust="spacingAndGlyphs" fill="#ffffff" >-0.93</text>
<text x="771.27" y="754.94" font-size="22.03" font-weight="700" textLength="26.02" lengthAdjust="spacingAndGlyphs" fill="#ffffff" >97o</text>
<text x="749.65" y="781.34" font-size="17.25" font-weight="700" textLength="30.27" lengthAdjust="spacingAndGlyphs" fill="#ffffff" >-0.89</text>
<text x="846.43" y="754.94" font-size="22.03" font-weight="700" textLength="25.95" lengthAdjust="spacingAndGlyphs" fill="#ffffff" >87o</text>
<text x="824.73" y="781.34" font-size="17.25" font-weight="700" textLength="30.27" lengthAdjust="spacingAndGlyphs" fill="#ffffff" >-0.83</text>
<text x="925.25" y="754.94" font-size="22.03" font-weight="700" textLength="18.29" lengthAdjust="spacingAndGlyphs" fill="#ffffff" >77</text>
<text x="899.62" y="781.34" font-size="17.25" font-weight="700" textLength="23.17" lengthAdjust="spacingAndGlyphs" fill="#ffffff" >1.34</text>
<text x="996.76" y="754.94" font-size="22.03" font-weight="700" textLength="25.43" lengthAdjust="spacingAndGlyphs" fill="#ffffff" >76s</text>
<text x="974.88" y="781.34" font-size="17.25" font-weight="700" textLength="30.27" lengthAdjust="spacingAndGlyphs" fill="#ffffff" >-0.36</text>
<text x="1071.84" y="754.94" font-size="22.03" font-weight="700" textLength="25.43" lengthAdjust="spacingAndGlyphs" fill="#ffffff" >75s</text>
<text x="1049.96" y="781.34" font-size="17.25" font-weight="700" textLength="30.27" lengthAdjust="spacingAndGlyphs" fill="#ffffff" >-0.49</text>
<text x="1146.92" y="754.94" font-size="22.03" font-weight="700" textLength="25.43" lengthAdjust="spacingAndGlyphs" fill="#ffffff" >74s</text>
<text x="1125.04" y="781.34" font-size="17.25" font-weight="700" textLength="30.27" lengthAdjust="spacingAndGlyphs" fill="#ffffff" >-0.59</text>
<text x="1222.00" y="754.94" font-size="22.03" font-weight="700" textLength="25.43" lengthAdjust="spacingAndGlyphs" fill="#ffffff" >73s</text>
<text x="1200.14" y="781.34" font-size="17.25" font-weight="700" textLength="29.11" lengthAdjust="spacingAndGlyphs" fill="#ffffff" >-0.72</text>
<text x="1297.07" y="754.94" font-size="22.03" font-weight="700" textLength="25.43" lengthAdjust="spacingAndGlyphs" fill="#ffffff" >72s</text>
<text x="1275.19" y="781.34" font-size="17.25" font-weight="700" textLength="30.27" lengthAdjust="spacingAndGlyphs" fill="#ffffff" >-0.83</text>
<text x="395.37" y="830.02" font-size="22.03" font-weight="700" textLength="27.14" lengthAdjust="spacingAndGlyphs" fill="#ffffff" >A6o</text>
<text x="374.27" y="856.42" font-size="17.25" font-weight="700" textLength="30.34" lengthAdjust="spacingAndGlyphs" fill="#ffffff" >-0.57</text>
<text x="469.85" y="830.02" font-size="22.03" font-weight="700" textLength="27.75" lengthAdjust="spacingAndGlyphs" fill="#ffffff" >K6o</text>
<text x="449.35" y="856.42" font-size="17.25" font-weight="700" textLength="30.20" lengthAdjust="spacingAndGlyphs" fill="#ffffff" >-0.88</text>
<text x="545.00" y="831.12" font-size="22.03" font-weight="700" textLength="27.98" lengthAdjust="spacingAndGlyphs" fill="#ffffff" >Q6o</text>
<text x="524.43" y="856.42" font-size="17.25" font-weight="700" textLength="30.13" lengthAdjust="spacingAndGlyphs" fill="#ffffff" >-0.95</text>
<text x="622.45" y="830.02" font-size="22.03" font-weight="400" textLength="23.64" lengthAdjust="spacingAndGlyphs" fill="#9ba1b6" >J6o</text>
<text x="696.38" y="830.02" font-size="22.03" font-weight="400" textLength="25.88" lengthAdjust="spacingAndGlyphs" fill="#9ba1b6" >T6o</text>
<text x="770.44" y="830.02" font-size="22.03" font-weight="700" textLength="27.71" lengthAdjust="spacingAndGlyphs" fill="#ffffff" >96o</text>
<text x="749.69" y="856.42" font-size="17.25" font-weight="700" textLength="28.33" lengthAdjust="spacingAndGlyphs" fill="#ffffff" >-1.00</text>
<text x="845.60" y="830.02" font-size="22.03" font-weight="700" textLength="27.62" lengthAdjust="spacingAndGlyphs" fill="#ffffff" >86o</text>
<text x="824.77" y="856.42" font-size="17.25" font-weight="700" textLength="28.02" lengthAdjust="spacingAndGlyphs" fill="#ffffff" >-0.91</text>
<text x="921.35" y="830.02" font-size="22.03" font-weight="700" textLength="26.10" lengthAdjust="spacingAndGlyphs" fill="#ffffff" >76o</text>
<text x="899.81" y="856.42" font-size="17.25" font-weight="700" textLength="30.27" lengthAdjust="spacingAndGlyphs" fill="#ffffff" >-0.86</text>
<text x="999.56" y="830.02" font-size="22.03" font-weight="700" textLength="19.83" lengthAdjust="spacingAndGlyphs" fill="#ffffff" >66</text>
<text x="974.89" y="856.42" font-size="17.25" font-weight="700" textLength="25.38" lengthAdjust="spacingAndGlyphs" fill="#ffffff" >0.90</text>
<text x="1071.08" y="830.02" font-size="22.03" font-weight="700" textLength="27.04" lengthAdjust="spacingAndGlyphs" fill="#ffffff" >65s</text>
<text x="1049.96" y="856.42" font-size="17.25" font-weight="700" textLength="30.20" lengthAdjust="spacingAndGlyphs" fill="#ffffff" >-0.38</text>
<text x="1146.16" y="830.02" font-size="22.03" font-weight="700" textLength="27.04" lengthAdjust="spacingAndGlyphs" fill="#ffffff" >64s</text>
<text x="1125.04" y="856.42" font-size="17.25" font-weight="700" textLength="30.20" lengthAdjust="spacingAndGlyphs" fill="#ffffff" >-0.48</text>
<text x="1221.24" y="830.02" font-size="22.03" font-weight="700" textLength="27.04" lengthAdjust="spacingAndGlyphs" fill="#ffffff" >63s</text>
<text x="1200.11" y="856.42" font-size="17.25" font-weight="700" textLength="30.34" lengthAdjust="spacingAndGlyphs" fill="#ffffff" >-0.60</text>
<text x="1296.31" y="830.02" font-size="22.03" font-weight="700" textLength="27.04" lengthAdjust="spacingAndGlyphs" fill="#ffffff" >62s</text>
<text x="1275.21" y="856.42" font-size="17.25" font-weight="700" textLength="29.05" lengthAdjust="spacingAndGlyphs" fill="#ffffff" >-0.73</text>
<text x="395.37" y="905.09" font-size="22.03" font-weight="700" textLength="27.14" lengthAdjust="spacingAndGlyphs" fill="#ffffff" >A5o</text>
<text x="374.27" y="931.49" font-size="17.25" font-weight="700" textLength="30.34" lengthAdjust="spacingAndGlyphs" fill="#ffffff" >-0.47</text>
<text x="469.85" y="905.09" font-size="22.03" font-weight="700" textLength="27.75" lengthAdjust="spacingAndGlyphs" fill="#ffffff" >K5o</text>
<text x="449.35" y="931.49" font-size="17.25" font-weight="700" textLength="30.27" lengthAdjust="spacingAndGlyphs" fill="#ffffff" >-0.93</text>
<text x="545.00" y="906.19" font-size="22.03" font-weight="700" textLength="27.98" lengthAdjust="spacingAndGlyphs" fill="#ffffff" >Q5o</text>
<text x="524.46" y="931.49" font-size="17.25" font-weight="700" textLength="28.33" lengthAdjust="spacingAndGlyphs" fill="#ffffff" >-1.00</text>
<text x="622.45" y="905.09" font-size="22.03" font-weight="400" textLength="23.64" lengthAdjust="spacingAndGlyphs" fill="#9ba1b6" >J5o</text>
<text x="696.38" y="905.09" font-size="22.03" font-weight="400" textLength="25.88" lengthAdjust="spacingAndGlyphs" fill="#9ba1b6" >T5o</text>
<text x="770.25" y="905.09" font-size="22.03" font-weight="400" textLength="27.93" lengthAdjust="spacingAndGlyphs" fill="#9ba1b6" >95o</text>
<text x="845.32" y="905.09" font-size="22.03" font-weight="400" textLength="27.93" lengthAdjust="spacingAndGlyphs" fill="#9ba1b6" >85o</text>
<text x="921.35" y="905.09" font-size="22.03" font-weight="700" textLength="26.10" lengthAdjust="spacingAndGlyphs" fill="#ffffff" >75o</text>
<text x="899.81" y="931.49" font-size="17.25" font-weight="700" textLength="30.34" lengthAdjust="spacingAndGlyphs" fill="#ffffff" >-0.97</text>
<text x="995.67" y="905.09" font-size="22.03" font-weight="700" textLength="27.71" lengthAdjust="spacingAndGlyphs" fill="#ffffff" >65o</text>
<text x="974.88" y="931.49" font-size="17.25" font-weight="700" textLength="30.34" lengthAdjust="spacingAndGlyphs" fill="#ffffff" >-0.87</text>
<text x="1074.73" y="905.09" font-size="22.03" font-weight="700" textLength="19.55" lengthAdjust="spacingAndGlyphs" fill="#ffffff" >55</text>
<text x="1049.97" y="931.49" font-size="17.25" font-weight="700" textLength="25.38" lengthAdjust="spacingAndGlyphs" fill="#ffffff" >0.42</text>
<text x="1146.24" y="905.09" font-size="22.03" font-weight="700" textLength="26.95" lengthAdjust="spacingAndGlyphs" fill="#ffffff" >54s</text>
<text x="1125.04" y="931.49" font-size="17.25" font-weight="700" textLength="30.27" lengthAdjust="spacingAndGlyphs" fill="#ffffff" >-0.39</text>
<text x="1221.32" y="905.09" font-size="22.03" font-weight="700" textLength="26.95" lengthAdjust="spacingAndGlyphs" fill="#ffffff" >53s</text>
<text x="1200.11" y="931.49" font-size="17.25" font-weight="700" textLength="30.34" lengthAdjust="spacingAndGlyphs" fill="#ffffff" >-0.50</text>
<text x="1296.39" y="905.09" font-size="22.03" font-weight="700" textLength="26.95" lengthAdjust="spacingAndGlyphs" fill="#ffffff" >52s</text>
<text x="1275.19" y="931.49" font-size="17.25" font-weight="700" textLength="30.27" lengthAdjust="spacingAndGlyphs" fill="#ffffff" >-0.63</text>
<text x="395.37" y="980.17" font-size="22.03" font-weight="700" textLength="27.14" lengthAdjust="spacingAndGlyphs" fill="#ffffff" >A4o</text>
<text x="374.28" y="1006.57" font-size="17.25" font-weight="700" textLength="29.86" lengthAdjust="spacingAndGlyphs" fill="#ffffff" >-0.54</text>
<text x="469.85" y="980.17" font-size="22.03" font-weight="700" textLength="27.75" lengthAdjust="spacingAndGlyphs" fill="#ffffff" >K4o</text>
<text x="449.35" y="1006.57" font-size="17.25" font-weight="700" textLength="29.86" lengthAdjust="spacingAndGlyphs" fill="#ffffff" >-0.94</text>
<text x="545.00" y="981.27" font-size="22.03" font-weight="700" textLength="27.98" lengthAdjust="spacingAndGlyphs" fill="#ffffff" >Q4o</text>
<text x="524.46" y="1006.57" font-size="17.25" font-weight="700" textLength="28.33" lengthAdjust="spacingAndGlyphs" fill="#ffffff" >-1.00</text>
<text x="622.45" y="980.17" font-size="22.03" font-weight="400" textLength="23.64" lengthAdjust="spacingAndGlyphs" fill="#9ba1b6" >J4o</text>
<text x="696.38" y="980.17" font-size="22.03" font-weight="400" textLength="25.88" lengthAdjust="spacingAndGlyphs" fill="#9ba1b6" >T4o</text>
<text x="770.25" y="980.17" font-size="22.03" font-weight="400" textLength="27.93" lengthAdjust="spacingAndGlyphs" fill="#9ba1b6" >94o</text>
<text x="845.32" y="980.17" font-size="22.03" font-weight="400" textLength="27.93" lengthAdjust="spacingAndGlyphs" fill="#9ba1b6" >84o</text>
<text x="921.17" y="980.17" font-size="22.03" font-weight="400" textLength="26.32" lengthAdjust="spacingAndGlyphs" fill="#9ba1b6" >74o</text>
<text x="995.67" y="980.17" font-size="22.03" font-weight="700" textLength="27.71" lengthAdjust="spacingAndGlyphs" fill="#ffffff" >64o</text>
<text x="974.88" y="1006.57" font-size="17.25" font-weight="700" textLength="30.27" lengthAdjust="spacingAndGlyphs" fill="#ffffff" >-0.96</text>
<text x="1070.83" y="980.17" font-size="22.03" font-weight="700" textLength="27.62" lengthAdjust="spacingAndGlyphs" fill="#ffffff" >54o</text>
<text x="1049.96" y="1006.57" font-size="17.25" font-weight="700" textLength="30.20" lengthAdjust="spacingAndGlyphs" fill="#ffffff" >-0.88</text>
<text x="1150.08" y="980.17" font-size="22.03" font-weight="700" textLength="18.92" lengthAdjust="spacingAndGlyphs" fill="#ffffff" >44</text>
<text x="1125.09" y="1006.57" font-size="17.25" font-weight="700" textLength="23.24" lengthAdjust="spacingAndGlyphs" fill="#ffffff" >0.18</text>
<text x="1221.56" y="980.17" font-size="22.03" font-weight="700" textLength="26.70" lengthAdjust="spacingAndGlyphs" fill="#ffffff" >43s</text>
<text x="1200.11" y="1006.57" font-size="17.25" font-weight="700" textLength="30.27" lengthAdjust="spacingAndGlyphs" fill="#ffffff" >-0.53</text>
<text x="1296.64" y="980.17" font-size="22.03" font-weight="700" textLength="26.70" lengthAdjust="spacingAndGlyphs" fill="#ffffff" >42s</text>
<text x="1275.19" y="1006.57" font-size="17.25" font-weight="700" textLength="30.27" lengthAdjust="spacingAndGlyphs" fill="#ffffff" >-0.63</text>
<text x="395.37" y="1055.25" font-size="22.03" font-weight="700" textLength="27.14" lengthAdjust="spacingAndGlyphs" fill="#ffffff" >A3o</text>
<text x="374.27" y="1081.65" font-size="17.25" font-weight="700" textLength="30.34" lengthAdjust="spacingAndGlyphs" fill="#ffffff" >-0.57</text>
<text x="469.85" y="1055.25" font-size="22.03" font-weight="700" textLength="27.75" lengthAdjust="spacingAndGlyphs" fill="#ffffff" >K3o</text>
<text x="449.35" y="1081.65" font-size="17.25" font-weight="700" textLength="30.27" lengthAdjust="spacingAndGlyphs" fill="#ffffff" >-0.96</text>
<text x="544.91" y="1056.35" font-size="22.03" font-weight="400" textLength="28.09" lengthAdjust="spacingAndGlyphs" fill="#9ba1b6" >Q3o</text>
<text x="622.45" y="1055.25" font-size="22.03" font-weight="400" textLength="23.64" lengthAdjust="spacingAndGlyphs" fill="#9ba1b6" >J3o</text>
<text x="696.38" y="1055.25" font-size="22.03" font-weight="400" textLength="25.88" lengthAdjust="spacingAndGlyphs" fill="#9ba1b6" >T3o</text>
<text x="770.25" y="1055.25" font-size="22.03" font-weight="400" textLength="27.93" lengthAdjust="spacingAndGlyphs" fill="#9ba1b6" >93o</text>
<text x="845.32" y="1055.25" font-size="22.03" font-weight="400" textLength="27.93" lengthAdjust="spacingAndGlyphs" fill="#9ba1b6" >83o</text>
<text x="921.17" y="1055.25" font-size="22.03" font-weight="400" textLength="26.32" lengthAdjust="spacingAndGlyphs" fill="#9ba1b6" >73o</text>
<text x="995.39" y="1055.25" font-size="22.03" font-weight="400" textLength="28.02" lengthAdjust="spacingAndGlyphs" fill="#9ba1b6" >63o</text>
<text x="1070.83" y="1055.25" font-size="22.03" font-weight="700" textLength="27.62" lengthAdjust="spacingAndGlyphs" fill="#ffffff" >53o</text>
<text x="1049.96" y="1081.65" font-size="17.25" font-weight="700" textLength="30.20" lengthAdjust="spacingAndGlyphs" fill="#ffffff" >-0.98</text>
<text x="1146.15" y="1055.25" font-size="22.03" font-weight="700" textLength="27.37" lengthAdjust="spacingAndGlyphs" fill="#ffffff" >43o</text>
<text x="1125.07" y="1081.65" font-size="17.25" font-weight="700" textLength="28.33" lengthAdjust="spacingAndGlyphs" fill="#ffffff" >-1.00</text>
<text x="1224.97" y="1055.25" font-size="22.03" font-weight="700" textLength="19.65" lengthAdjust="spacingAndGlyphs" fill="#ffffff" >33</text>
<text x="1200.17" y="1081.65" font-size="17.25" font-weight="700" textLength="23.30" lengthAdjust="spacingAndGlyphs" fill="#ffffff" >0.13</text>
<text x="1296.48" y="1055.25" font-size="22.03" font-weight="700" textLength="26.87" lengthAdjust="spacingAndGlyphs" fill="#ffffff" >32s</text>
<text x="1275.19" y="1081.65" font-size="17.25" font-weight="700" textLength="30.34" lengthAdjust="spacingAndGlyphs" fill="#ffffff" >-0.67</text>
<text x="395.37" y="1130.32" font-size="22.03" font-weight="700" textLength="27.14" lengthAdjust="spacingAndGlyphs" fill="#ffffff" >A2o</text>
<text x="374.27" y="1156.72" font-size="17.25" font-weight="700" textLength="30.34" lengthAdjust="spacingAndGlyphs" fill="#ffffff" >-0.62</text>
<text x="469.85" y="1130.32" font-size="22.03" font-weight="700" textLength="27.75" lengthAdjust="spacingAndGlyphs" fill="#ffffff" >K2o</text>
<text x="449.35" y="1156.72" font-size="17.25" font-weight="700" textLength="30.20" lengthAdjust="spacingAndGlyphs" fill="#ffffff" >-0.98</text>
<text x="544.91" y="1131.42" font-size="22.03" font-weight="400" textLength="28.09" lengthAdjust="spacingAndGlyphs" fill="#9ba1b6" >Q2o</text>
<text x="622.45" y="1130.32" font-size="22.03" font-weight="400" textLength="23.64" lengthAdjust="spacingAndGlyphs" fill="#9ba1b6" >J2o</text>
<text x="696.38" y="1130.32" font-size="22.03" font-weight="400" textLength="25.88" lengthAdjust="spacingAndGlyphs" fill="#9ba1b6" >T2o</text>
<text x="770.25" y="1130.32" font-size="22.03" font-weight="400" textLength="27.93" lengthAdjust="spacingAndGlyphs" fill="#9ba1b6" >92o</text>
<text x="845.32" y="1130.32" font-size="22.03" font-weight="400" textLength="27.93" lengthAdjust="spacingAndGlyphs" fill="#9ba1b6" >82o</text>
<text x="921.17" y="1130.32" font-size="22.03" font-weight="400" textLength="26.32" lengthAdjust="spacingAndGlyphs" fill="#9ba1b6" >72o</text>
<text x="995.39" y="1130.32" font-size="22.03" font-weight="400" textLength="28.02" lengthAdjust="spacingAndGlyphs" fill="#9ba1b6" >62o</text>
<text x="1070.64" y="1130.32" font-size="22.03" font-weight="400" textLength="27.84" lengthAdjust="spacingAndGlyphs" fill="#9ba1b6" >52o</text>
<text x="1146.05" y="1130.32" font-size="22.03" font-weight="400" textLength="27.49" lengthAdjust="spacingAndGlyphs" fill="#9ba1b6" >42o</text>
<text x="1220.79" y="1130.32" font-size="22.03" font-weight="400" textLength="27.84" lengthAdjust="spacingAndGlyphs" fill="#9ba1b6" >32o</text>
<text x="1299.86" y="1130.32" font-size="22.03" font-weight="700" textLength="19.93" lengthAdjust="spacingAndGlyphs" fill="#ffffff" >22</text>
<text x="1275.21" y="1156.72" font-size="17.25" font-weight="700" textLength="25.18" lengthAdjust="spacingAndGlyphs" fill="#ffffff" >0.05</text>
<rect x="504.8" y="1185.3" width="32" height="32" rx="4" fill="#2f7bc2"/>
<text x="544.82" y="1208.45" font-size="20.72" font-weight="700" stroke="#ffffff" stroke-width="0.3" stroke-linejoin="round" textLength="117.11" lengthAdjust="spacingAndGlyphs" fill="#ffffff" >3BET - 7bb - 5.54%</text>
<rect x="749" y="1185.3" width="32" height="32" rx="4" fill="#ae3f2e"/>
<text x="788.42" y="1208.45" font-size="20.72" font-weight="700" stroke="#ffffff" stroke-width="0.3" stroke-linejoin="round" textLength="133.24" lengthAdjust="spacingAndGlyphs" fill="#ffffff" >ALL-IN - 25bb - 8.71%</text>
<rect x="993" y="1185.3" width="32" height="32" rx="4" fill="#c4aa2d"/>
<text x="1032.22" y="1208.45" font-size="20.72" font-weight="700" stroke="#ffffff" stroke-width="0.3" stroke-linejoin="round" textLength="138.45" lengthAdjust="spacingAndGlyphs" fill="#ffffff" >CALL - 2.2bb - 59.50%</text>
<rect x="1659" y="0" width="900" height="1282" fill="#0b1330"/>
<rect x="1658" y="0" width="1" height="1282" fill="#262d4a"/>
<text x="1991.63" y="35.25" font-size="17.39" font-weight="700" letter-spacing="3.60" stroke="#f6b73c" stroke-width="0.5" stroke-linejoin="round" textLength="37.75" lengthAdjust="spacingAndGlyphs" fill="#f6b73c" >SPOT</text>
<text x="2091.53" y="35.25" font-size="17.39" font-weight="700" letter-spacing="3.48" stroke="#9ca1b4" stroke-width="0.5" stroke-linejoin="round" textLength="35.10" lengthAdjust="spacingAndGlyphs" fill="#9ca1b4" >INFO</text>
<text x="2189.49" y="35.25" font-size="17.39" font-weight="700" letter-spacing="3.27" stroke="#9ca1b4" stroke-width="0.5" stroke-linejoin="round" textLength="38.73" lengthAdjust="spacingAndGlyphs" fill="#9ca1b4" >MAIN</text>
<rect x="1960.8" y="52.6" width="99.5" height="2.6" fill="#f6b73c"/>
<rect x="1892.3" y="73.5" width="106.5" height="73.2" rx="7" fill="#6383e2" filter="url(#shadow)"/>
<text x="1906.23" y="116.45" font-size="16.38" font-weight="700" letter-spacing="1.55" stroke="#ffffff" stroke-width="0.7" stroke-linejoin="round" textLength="79.70" lengthAdjust="spacingAndGlyphs" fill="#ffffff" >MTT-6-MAX</text>
<rect x="2009.9" y="73.5" width="103.7" height="73.2" rx="7" fill="#1e2c66" filter="url(#shadow)"/>
<text x="2024.36" y="116.45" font-size="16.38" font-weight="700" letter-spacing="1.61" stroke="#6e7285" stroke-width="0.7" stroke-linejoin="round" textLength="77.06" lengthAdjust="spacingAndGlyphs" fill="#6e7285" >MTT-8-MAX</text>
<rect x="2125.3" y="73.5" width="82.4" height="73.2" rx="7" fill="#1e2c66" filter="url(#shadow)"/>
<text x="2140.85" y="116.45" font-size="16.38" font-weight="700" letter-spacing="1.60" stroke="#6e7285" stroke-width="0.7" stroke-linejoin="round" textLength="53.56" lengthAdjust="spacingAndGlyphs" fill="#6e7285" >MTT-HU</text>
<rect x="2219.0" y="73.5" width="103.5" height="73.2" rx="7" fill="#1e2c66" filter="url(#shadow)"/>
<text x="2232.86" y="116.45" font-size="16.38" font-weight="700" letter-spacing="1.61" stroke="#6e7285" stroke-width="0.7" stroke-linejoin="round" textLength="77.16" lengthAdjust="spacingAndGlyphs" fill="#6e7285" >MTT-3-MAX</text>
<rect x="1659" y="165" width="900" height="1" fill="#151c3b"/>
<rect x="1659" y="772" width="900" height="1" fill="#151c3b"/>
<rect x="1821.5" y="311.5" width="573.0" height="284.5" rx="110.5" ry="125.5" fill="#0b1d35"/>
<rect x="1821.5" y="311.5" width="573.0" height="284.5" rx="110.5" ry="125.5" fill="none" stroke="#f6b73c" stroke-width="9" opacity="0.33" filter="url(#blur6)"/>
<rect x="1834.0" y="325.0" width="547.5" height="259.5" rx="93" ry="108" fill="#04203c" filter="url(#blur3)"/>
<rect x="1837.0" y="328.0" width="541.5" height="253.5" rx="90" ry="105" fill="#0e3f60"/>
<rect x="1823.0" y="313.0" width="570.0" height="281.5" rx="109" ry="124" fill="none" stroke="#f6b73c" stroke-width="3.4"/>
<clipPath id="logoclip"><rect x="2088" y="390" width="70" height="110"/></clipPath>
<g clip-path="url(#logoclip)"><path d="M2088.00,398.00 A53.5,53.5 0 0 1 2123.80,411.74 L2115.43,421.03 A41,41 0 0 0 2088.00,410.50 Z M2123.80,411.74 A53.5,53.5 0 0 1 2134.33,424.75 L2126.97,429.00 A45,45 0 0 0 2118.11,418.06 Z M2134.33,424.75 A53.5,53.5 0 0 1 2141.47,453.37 L2128.98,452.93 A41,41 0 0 0 2123.51,431.00 Z M2141.47,453.37 A53.5,53.5 0 0 1 2138.88,468.03 L2132.70,466.02 A47,47 0 0 0 2134.97,453.14 Z M2138.88,468.03 A53.5,53.5 0 0 1 2117.14,496.37 L2110.33,485.89 A41,41 0 0 0 2126.99,464.17 Z M2088.00,414.00 A37.5,37.5 0 0 1 2113.09,479.37 L2108.74,474.54 A31,31 0 0 0 2088.00,420.50 Z" fill="#2c5f86"/>
<path d="M2088.0,431.7 C2101.0,431.7 2110.3,439.5 2110.3,450.5 C2110.3,459.5 2105.0,467.5 2099.5,472.0 L2088.0,462.0 L2088.0,461.1 C2094.0,461.1 2097.5,456.5 2097.5,451.5 C2097.5,446.5 2094.0,442.8 2088.0,442.8 Z" fill="#2c5f86"/>
<polygon points="2088.0,461.1 2099.9,472.3 2111.8,491.4 2098.3,491.4 2088.0,473.5" fill="#2c5f86"/></g>
<text x="1980.53" y="366.60" font-size="18.99" font-weight="700" textLength="41.91" lengthAdjust="spacingAndGlyphs" fill="#ffffff" >2.2 BB</text>
<text x="1989.76" y="397.80" font-size="13.04" font-weight="700" textLength="59.98" lengthAdjust="spacingAndGlyphs" fill="#ffffff" >Ante: 0.125%</text>
<rect x="2051.6" y="387.5" width="1.6" height="12.5" fill="#ffffff"/>
<text x="2057.75" y="398.00" font-size="20.29" font-weight="700" textLength="25.56" lengthAdjust="spacingAndGlyphs" fill="#ffffff" >Pot:</text>
<text x="2099.56" y="397.70" font-size="22.17" font-weight="700" textLength="49.59" lengthAdjust="spacingAndGlyphs" fill="#ffffff" >4.9 BB</text>
<text x="1847.66" y="459.80" font-size="18.12" font-weight="700" textLength="41.67" lengthAdjust="spacingAndGlyphs" fill="#ffffff" >0.5 BB</text>
<text x="2196.03" y="557.40" font-size="18.99" font-weight="700" textLength="41.91" lengthAdjust="spacingAndGlyphs" fill="#ffffff" >2.2 BB</text>
<g transform="rotate(-9.4 2167.7 219.8)"><rect x="2167.7" y="219.8" width="53" height="48" rx="4" fill="#434345" stroke="#3a3a3c" stroke-width="0.8"/></g>
<g transform="rotate(4 2196.7 215.20000000000002)"><rect x="2196.7" y="215.20000000000002" width="58.5" height="48" rx="4" fill="#454547" stroke="#39393b" stroke-width="0.8"/></g>
<rect x="2181.4" y="283.8" width="67.5" height="36.89999999999998" rx="5" fill="#3e3e40"/>
<rect x="2169.2" y="241.8" width="90.80000000000018" height="50.0" rx="8" fill="#474749" stroke="#0c0c10" stroke-width="1.4"/>
<text x="2207.88" y="267.60" font-size="22.61" font-weight="700" textLength="12.85" lengthAdjust="spacingAndGlyphs" fill="#8a8a8c" >LJ</text>
<text x="2198.96" y="286.70" font-size="18.84" font-weight="700" textLength="31.12" lengthAdjust="spacingAndGlyphs" fill="#7b7b7d" >FOLD</text>
<text x="2198.54" y="313.80" font-size="18.84" font-weight="700" textLength="37.31" lengthAdjust="spacingAndGlyphs" fill="#69696b" >25 BB</text>
<g transform="rotate(-9.4 1736.4499999999998 404.6)"><rect x="1736.4499999999998" y="404.6" width="53" height="48" rx="4" fill="#434345" stroke="#3a3a3c" stroke-width="0.8"/></g>
<g transform="rotate(4 1765.4499999999998 400.0)"><rect x="1765.4499999999998" y="400.0" width="58.5" height="48" rx="4" fill="#454547" stroke="#39393b" stroke-width="0.8"/></g>
<rect x="1750.8" y="469.7" width="66.40000000000009" height="36.30000000000001" rx="5" fill="#3e3e40"/>
<rect x="1738.3" y="426.6" width="90.10000000000014" height="51.099999999999966" rx="8" fill="#474749" stroke="#0c0c10" stroke-width="1.4"/>
<text x="1773.17" y="452.40" font-size="22.61" font-weight="700" textLength="19.94" lengthAdjust="spacingAndGlyphs" fill="#8a8a8c" >SB</text>
<text x="1767.25" y="471.50" font-size="18.84" font-weight="700" textLength="31.43" lengthAdjust="spacingAndGlyphs" fill="#7b7b7d" >FOLD</text>
<text x="1760.53" y="499.70" font-size="18.84" font-weight="700" textLength="49.12" lengthAdjust="spacingAndGlyphs" fill="#69696b" >24.5 BB</text>
<g transform="rotate(-9.4 2379.7999999999997 404.7)"><rect x="2379.7999999999997" y="404.7" width="53" height="48" rx="4" fill="#434345" stroke="#3a3a3c" stroke-width="0.8"/></g>
<g transform="rotate(4 2408.7999999999997 400.09999999999997)"><rect x="2408.7999999999997" y="400.09999999999997" width="58.5" height="48" rx="4" fill="#454547" stroke="#39393b" stroke-width="0.8"/></g>
<rect x="2395.4" y="469.7" width="65.90000000000009" height="36.400000000000034" rx="5" fill="#3e3e40"/>
<rect x="2381.5" y="426.7" width="90.40000000000009" height="51.0" rx="8" fill="#474749" stroke="#0c0c10" stroke-width="1.4"/>
<text x="2418.34" y="452.50" font-size="22.61" font-weight="700" textLength="16.97" lengthAdjust="spacingAndGlyphs" fill="#8a8a8c" >HJ</text>
<text x="2410.85" y="471.60" font-size="18.84" font-weight="700" textLength="31.43" lengthAdjust="spacingAndGlyphs" fill="#7b7b7d" >FOLD</text>
<text x="2410.12" y="499.70" font-size="18.84" font-weight="700" textLength="38.65" lengthAdjust="spacingAndGlyphs" fill="#69696b" >25 BB</text>
<g transform="rotate(-9.4 1951.6 615.3)"><rect x="1951.6" y="615.3" width="53" height="48" rx="4" fill="#434345" stroke="#3a3a3c" stroke-width="0.8"/></g>
<g transform="rotate(4 1980.6 610.6999999999999)"><rect x="1980.6" y="610.6999999999999" width="58.5" height="48" rx="4" fill="#454547" stroke="#39393b" stroke-width="0.8"/></g>
<rect x="1966.3" y="680.0" width="66.90000000000009" height="37.0" rx="5" fill="#3e3e40"/>
<rect x="1952.9" y="637.3" width="91.19999999999982" height="50.700000000000045" rx="8" fill="#474749" stroke="#0c0c10" stroke-width="1.4"/>
<text x="1983.74" y="663.10" font-size="22.61" font-weight="700" textLength="30.21" lengthAdjust="spacingAndGlyphs" fill="#8a8a8c" >BTN</text>
<text x="1982.95" y="682.20" font-size="18.84" font-weight="700" textLength="31.43" lengthAdjust="spacingAndGlyphs" fill="#7b7b7d" >FOLD</text>
<text x="1982.53" y="710.00" font-size="18.84" font-weight="700" textLength="37.83" lengthAdjust="spacingAndGlyphs" fill="#69696b" >25 BB</text>
<rect x="1949" y="234" width="100" height="66" rx="12" fill="#f6b73c" opacity="0.5" filter="url(#blur6)"/>
<rect x="1960.0" y="195.0" width="56" height="60" rx="5" fill="#f8b93c" stroke="#fff" stroke-width="3"/>
<rect x="1978.0" y="195.0" width="56" height="60" rx="5" fill="#f8b93c" stroke="#fff" stroke-width="3"/>
<rect x="1966.0" y="285.6" width="67.5" height="34.799999999999955" rx="5" fill="url(#stackBlue)"/>
<rect x="1953.2" y="241.5" width="91.79999999999995" height="52.10000000000002" rx="8" fill="#6a2a8e" stroke="#e6a543" stroke-width="2"/>
<text x="1987.70" y="266.90" font-size="21.30" font-weight="700" textLength="22.26" lengthAdjust="spacingAndGlyphs" fill="#ffffff" >BB</text>
<text x="1983.64" y="286.60" font-size="18.26" font-weight="700" textLength="30.82" lengthAdjust="spacingAndGlyphs" fill="#ffffff" >CALL</text>
<text x="1976.53" y="313.30" font-size="18.12" font-weight="700" textLength="49.73" lengthAdjust="spacingAndGlyphs" fill="#ffffff" >22.8 BB</text>
<polygon points="1917,258.4 1934,267 1917,275.7" fill="#f6b73c"/>
<rect x="2175.7" y="590.8" width="56" height="60" rx="5" fill="#f8b93c" stroke="#fff" stroke-width="3"/>
<rect x="2193.7" y="590.8" width="56" height="60" rx="5" fill="#f8b93c" stroke="#fff" stroke-width="3"/>
<rect x="2181.7" y="679.6" width="67.5" height="37.299999999999955" rx="5" fill="url(#stackBlue)"/>
<rect x="2169.4" y="638.0" width="90.0" height="49.60000000000002" rx="8" fill="#288a26" stroke="#0c1a0c" stroke-width="2"/>
<text x="2203.20" y="663.70" font-size="22.75" font-weight="700" textLength="22.47" lengthAdjust="spacingAndGlyphs" fill="#ffffff" >CO</text>
<text x="2196.12" y="682.50" font-size="18.41" font-weight="700" textLength="36.51" lengthAdjust="spacingAndGlyphs" fill="#ffffff" >RAISE</text>
<text x="2192.12" y="709.70" font-size="19.28" font-weight="700" textLength="49.83" lengthAdjust="spacingAndGlyphs" fill="#ffffff" >22.8 BB</text>
<circle cx="1931.5" cy="583.8" r="16.7" fill="#f6b73c"/>
<text x="1925.84" y="592.80" font-size="24.35" font-weight="700" textLength="12.92" lengthAdjust="spacingAndGlyphs" fill="#ffffff" >D</text>
<circle cx="2526.5" cy="741.5" r="15" fill="none" stroke="#8a90a8" stroke-width="1.6"/>
<text x="2521.82" y="748.70" font-size="20.58" font-weight="700" textLength="9.22" lengthAdjust="spacingAndGlyphs" fill="#6f7590" >?</text>
<rect x="2025" y="804" width="41" height="16" rx="8" fill="#3a4058"/>
<circle cx="2035" cy="812" r="11" fill="#d2d2da"/>
<text x="2074.13" y="820.00" font-size="21.01" font-weight="700" textLength="117.34" lengthAdjust="spacingAndGlyphs" fill="#bfc3d6" >Mode asymétrique</text>
<rect x="1691.8" y="867.9" width="82.5" height="74.1" rx="7" fill="#1e2c66" filter="url(#shadow)"/>
<text x="1714.19" y="911.15" font-size="17.97" font-weight="700" letter-spacing="1.83" stroke="#6e7285" stroke-width="0.7" stroke-linejoin="round" textLength="38.79" lengthAdjust="spacingAndGlyphs" fill="#6e7285" >11 BB</text>
<rect x="1786.2" y="867.9" width="82.5" height="74.1" rx="7" fill="#1e2c66" filter="url(#shadow)"/>
<text x="1808.61" y="911.15" font-size="17.97" font-weight="700" letter-spacing="1.87" stroke="#6e7285" stroke-width="0.7" stroke-linejoin="round" textLength="38.77" lengthAdjust="spacingAndGlyphs" fill="#6e7285" >12 BB</text>
<rect x="1879.0" y="867.9" width="82.5" height="74.1" rx="7" fill="#1e2c66" filter="url(#shadow)"/>
<text x="1901.41" y="911.15" font-size="17.97" font-weight="700" letter-spacing="1.87" stroke="#6e7285" stroke-width="0.7" stroke-linejoin="round" textLength="38.77" lengthAdjust="spacingAndGlyphs" fill="#6e7285" >13 BB</text>
<rect x="1972.7" y="867.9" width="82.5" height="74.1" rx="7" fill="#1e2c66" filter="url(#shadow)"/>
<text x="1995.11" y="911.15" font-size="17.97" font-weight="700" letter-spacing="1.87" stroke="#6e7285" stroke-width="0.7" stroke-linejoin="round" textLength="38.77" lengthAdjust="spacingAndGlyphs" fill="#6e7285" >14 BB</text>
<rect x="2066.0" y="867.9" width="82.5" height="74.1" rx="7" fill="#1e2c66" filter="url(#shadow)"/>
<text x="2088.41" y="911.15" font-size="17.97" font-weight="700" letter-spacing="1.87" stroke="#6e7285" stroke-width="0.7" stroke-linejoin="round" textLength="38.77" lengthAdjust="spacingAndGlyphs" fill="#6e7285" >15 BB</text>
<rect x="2160.0" y="867.9" width="82.5" height="74.1" rx="7" fill="#1e2c66" filter="url(#shadow)"/>
<text x="2182.41" y="911.15" font-size="17.97" font-weight="700" letter-spacing="1.87" stroke="#6e7285" stroke-width="0.7" stroke-linejoin="round" textLength="38.77" lengthAdjust="spacingAndGlyphs" fill="#6e7285" >17 BB</text>
<rect x="2253.2" y="867.9" width="82.5" height="74.1" rx="7" fill="#1e2c66" filter="url(#shadow)"/>
<text x="2275.90" y="911.15" font-size="17.97" font-weight="700" letter-spacing="1.88" stroke="#6e7285" stroke-width="0.7" stroke-linejoin="round" textLength="38.47" lengthAdjust="spacingAndGlyphs" fill="#6e7285" >20 BB</text>
<rect x="2347.3" y="867.9" width="82.5" height="74.1" rx="7" fill="#6383e2" filter="url(#shadow)"/>
<text x="2370.00" y="911.15" font-size="17.97" font-weight="700" letter-spacing="1.88" stroke="#ffffff" stroke-width="0.7" stroke-linejoin="round" textLength="38.47" lengthAdjust="spacingAndGlyphs" fill="#ffffff" >25 BB</text>
<rect x="2440.0" y="867.9" width="82.5" height="74.1" rx="7" fill="#1e2c66" filter="url(#shadow)"/>
<text x="2462.81" y="911.15" font-size="17.97" font-weight="700" letter-spacing="1.89" stroke="#6e7285" stroke-width="0.7" stroke-linejoin="round" textLength="38.35" lengthAdjust="spacingAndGlyphs" fill="#6e7285" >30 BB</text>
<rect x="1879.0" y="953.4" width="82.5" height="72.1" rx="7" fill="#1e2c66" filter="url(#shadow)"/>
<text x="1899.91" y="996.35" font-size="17.97" font-weight="700" letter-spacing="1.68" stroke="#6e7285" stroke-width="0.7" stroke-linejoin="round" textLength="42.33" lengthAdjust="spacingAndGlyphs" fill="#6e7285" >40 BB</text>
<rect x="1972.7" y="953.4" width="82.5" height="72.1" rx="7" fill="#1e2c66" filter="url(#shadow)"/>
<text x="1993.41" y="996.35" font-size="17.97" font-weight="700" letter-spacing="1.67" stroke="#6e7285" stroke-width="0.7" stroke-linejoin="round" textLength="42.52" lengthAdjust="spacingAndGlyphs" fill="#6e7285" >50 BB</text>
<rect x="2066.0" y="953.4" width="82.5" height="72.1" rx="7" fill="#1e2c66" filter="url(#shadow)"/>
<text x="2086.65" y="996.35" font-size="17.97" font-weight="700" letter-spacing="1.67" stroke="#6e7285" stroke-width="0.7" stroke-linejoin="round" textLength="42.59" lengthAdjust="spacingAndGlyphs" fill="#6e7285" >60 BB</text>
<rect x="2160.0" y="953.4" width="82.5" height="72.1" rx="7" fill="#1e2c66" filter="url(#shadow)"/>
<text x="2180.71" y="996.35" font-size="17.97" font-weight="700" letter-spacing="1.67" stroke="#6e7285" stroke-width="0.7" stroke-linejoin="round" textLength="42.52" lengthAdjust="spacingAndGlyphs" fill="#6e7285" >80 BB</text>
<rect x="2253.2" y="953.4" width="82.5" height="72.1" rx="7" fill="#1e2c66" filter="url(#shadow)"/>
<text x="2269.79" y="996.35" font-size="17.97" font-weight="700" letter-spacing="1.69" stroke="#6e7285" stroke-width="0.7" stroke-linejoin="round" textLength="50.35" lengthAdjust="spacingAndGlyphs" fill="#6e7285" >100 BB</text>
<text x="2027.28" y="1072.30" font-size="17.83" font-weight="700" textLength="50.42" lengthAdjust="spacingAndGlyphs" fill="#ffffff" >CO RAISE</text>
<text x="2153.94" y="1072.30" font-size="17.83" font-weight="700" textLength="16.83" lengthAdjust="spacingAndGlyphs" fill="#ffffff" >BB</text>
<rect x="2006" y="1075" width="94" height="94" fill="#000" opacity="0.35" filter="url(#blur4)"/>
<rect x="2116" y="1075" width="94" height="94" fill="#000" opacity="0.35" filter="url(#blur4)"/>
<rect x="2009.8" y="1078.0" width="87.1" height="87.1" fill="#15183a"/>
<rect x="2011.30" y="1079.50" width="5.55" height="5.55" fill="#5db35a" stroke="rgba(0,0,0,0.25)" stroke-width="0.6"/>
<rect x="2017.85" y="1079.50" width="5.55" height="5.55" fill="#5db35a" stroke="rgba(0,0,0,0.25)" stroke-width="0.6"/>
<rect x="2024.40" y="1079.50" width="5.55" height="5.55" fill="#5db35a" stroke="rgba(0,0,0,0.25)" stroke-width="0.6"/>
<rect x="2030.95" y="1079.50" width="5.55" height="5.55" fill="#5db35a" stroke="rgba(0,0,0,0.25)" stroke-width="0.6"/>
<rect x="2037.50" y="1079.50" width="5.55" height="5.55" fill="#5db35a" stroke="rgba(0,0,0,0.25)" stroke-width="0.6"/>
<rect x="2044.05" y="1079.50" width="5.55" height="5.55" fill="#5db35a" stroke="rgba(0,0,0,0.25)" stroke-width="0.6"/>
<rect x="2050.60" y="1079.50" width="5.55" height="5.55" fill="#5db35a" stroke="rgba(0,0,0,0.25)" stroke-width="0.6"/>
<rect x="2057.15" y="1079.50" width="5.55" height="5.55" fill="#5db35a" stroke="rgba(0,0,0,0.25)" stroke-width="0.6"/>
<rect x="2063.70" y="1079.50" width="5.55" height="5.55" fill="#5db35a" stroke="rgba(0,0,0,0.25)" stroke-width="0.6"/>
<rect x="2070.25" y="1079.50" width="5.55" height="5.55" fill="#5db35a" stroke="rgba(0,0,0,0.25)" stroke-width="0.6"/>
<rect x="2076.80" y="1079.50" width="5.55" height="5.55" fill="#5db35a" stroke="rgba(0,0,0,0.25)" stroke-width="0.6"/>
<rect x="2083.35" y="1079.50" width="5.55" height="5.55" fill="#5db35a" stroke="rgba(0,0,0,0.25)" stroke-width="0.6"/>
<rect x="2089.90" y="1079.50" width="5.55" height="5.55" fill="#5db35a" stroke="rgba(0,0,0,0.25)" stroke-width="0.6"/>
<rect x="2011.30" y="1086.05" width="5.55" height="5.55" fill="#5db35a" stroke="rgba(0,0,0,0.25)" stroke-width="0.6"/>
<rect x="2017.85" y="1086.05" width="5.55" height="5.55" fill="#5db35a" stroke="rgba(0,0,0,0.25)" stroke-width="0.6"/>
<rect x="2024.40" y="1086.05" width="5.55" height="5.55" fill="#5db35a" stroke="rgba(0,0,0,0.25)" stroke-width="0.6"/>
<rect x="2030.95" y="1086.05" width="5.55" height="5.55" fill="#5db35a" stroke="rgba(0,0,0,0.25)" stroke-width="0.6"/>
<rect x="2037.50" y="1086.05" width="5.55" height="5.55" fill="#5db35a" stroke="rgba(0,0,0,0.25)" stroke-width="0.6"/>
<rect x="2044.05" y="1086.05" width="5.55" height="5.55" fill="#5db35a" stroke="rgba(0,0,0,0.25)" stroke-width="0.6"/>
<rect x="2050.60" y="1086.05" width="5.55" height="5.55" fill="#5db35a" stroke="rgba(0,0,0,0.25)" stroke-width="0.6"/>
<rect x="2057.15" y="1086.05" width="5.55" height="5.55" fill="#5db35a" stroke="rgba(0,0,0,0.25)" stroke-width="0.6"/>
<rect x="2063.70" y="1086.05" width="5.55" height="5.55" fill="#5db35a" stroke="rgba(0,0,0,0.25)" stroke-width="0.6"/>
<rect x="2070.25" y="1086.05" width="5.55" height="5.55" fill="#5db35a" stroke="rgba(0,0,0,0.25)" stroke-width="0.6"/>
<rect x="2076.80" y="1086.05" width="5.55" height="5.55" fill="#5db35a" stroke="rgba(0,0,0,0.25)" stroke-width="0.6"/>
<rect x="2011.30" y="1092.60" width="5.55" height="5.55" fill="#5db35a" stroke="rgba(0,0,0,0.25)" stroke-width="0.6"/>
<rect x="2017.85" y="1092.60" width="5.55" height="5.55" fill="#5db35a" stroke="rgba(0,0,0,0.25)" stroke-width="0.6"/>
<rect x="2024.40" y="1092.60" width="5.55" height="5.55" fill="#5db35a" stroke="rgba(0,0,0,0.25)" stroke-width="0.6"/>
<rect x="2030.95" y="1092.60" width="5.55" height="5.55" fill="#5db35a" stroke="rgba(0,0,0,0.25)" stroke-width="0.6"/>
<rect x="2037.50" y="1092.60" width="5.55" height="5.55" fill="#5db35a" stroke="rgba(0,0,0,0.25)" stroke-width="0.6"/>
<rect x="2044.05" y="1092.60" width="5.55" height="5.55" fill="#5db35a" stroke="rgba(0,0,0,0.25)" stroke-width="0.6"/>
<rect x="2050.60" y="1092.60" width="5.55" height="5.55" fill="#5db35a" stroke="rgba(0,0,0,0.25)" stroke-width="0.6"/>
<rect x="2057.15" y="1092.60" width="5.55" height="5.55" fill="#5db35a" stroke="rgba(0,0,0,0.25)" stroke-width="0.6"/>
<rect x="2063.70" y="1092.60" width="5.55" height="5.55" fill="#5db35a" stroke="rgba(0,0,0,0.25)" stroke-width="0.6"/>
<rect x="2070.25" y="1092.60" width="5.55" height="5.55" fill="#5db35a" stroke="rgba(0,0,0,0.25)" stroke-width="0.6"/>
<rect x="2011.30" y="1099.15" width="5.55" height="5.55" fill="#5db35a" stroke="rgba(0,0,0,0.25)" stroke-width="0.6"/>
<rect x="2017.85" y="1099.15" width="5.55" height="5.55" fill="#5db35a" stroke="rgba(0,0,0,0.25)" stroke-width="0.6"/>
<rect x="2024.40" y="1099.15" width="5.55" height="5.55" fill="#5db35a" stroke="rgba(0,0,0,0.25)" stroke-width="0.6"/>
<rect x="2030.95" y="1099.15" width="5.55" height="5.55" fill="#5db35a" stroke="rgba(0,0,0,0.25)" stroke-width="0.6"/>
<rect x="2037.50" y="1099.15" width="5.55" height="5.55" fill="#5db35a" stroke="rgba(0,0,0,0.25)" stroke-width="0.6"/>
<rect x="2044.05" y="1099.15" width="5.55" height="5.55" fill="#5db35a" stroke="rgba(0,0,0,0.25)" stroke-width="0.6"/>
<rect x="2050.60" y="1099.15" width="5.55" height="5.55" fill="#5db35a" stroke="rgba(0,0,0,0.25)" stroke-width="0.6"/>
<rect x="2057.15" y="1099.15" width="5.55" height="5.55" fill="#5db35a" stroke="rgba(0,0,0,0.25)" stroke-width="0.6"/>
<rect x="2011.30" y="1105.70" width="5.55" height="5.55" fill="#5db35a" stroke="rgba(0,0,0,0.25)" stroke-width="0.6"/>
<rect x="2017.85" y="1105.70" width="5.55" height="5.55" fill="#5db35a" stroke="rgba(0,0,0,0.25)" stroke-width="0.6"/>
<rect x="2024.40" y="1105.70" width="5.55" height="5.55" fill="#5db35a" stroke="rgba(0,0,0,0.25)" stroke-width="0.6"/>
<rect x="2030.95" y="1105.70" width="5.55" height="5.55" fill="#5db35a" stroke="rgba(0,0,0,0.25)" stroke-width="0.6"/>
<rect x="2037.50" y="1105.70" width="5.55" height="5.55" fill="#5db35a" stroke="rgba(0,0,0,0.25)" stroke-width="0.6"/>
<rect x="2044.05" y="1105.70" width="5.55" height="5.55" fill="#5db35a" stroke="rgba(0,0,0,0.25)" stroke-width="0.6"/>
<rect x="2050.60" y="1105.70" width="5.55" height="5.55" fill="#5db35a" stroke="rgba(0,0,0,0.25)" stroke-width="0.6"/>
<rect x="2057.15" y="1105.70" width="5.55" height="5.55" fill="#5db35a" stroke="rgba(0,0,0,0.25)" stroke-width="0.6"/>
<rect x="2011.30" y="1112.25" width="5.55" height="5.55" fill="#5db35a" stroke="rgba(0,0,0,0.25)" stroke-width="0.6"/>
<rect x="2017.85" y="1112.25" width="5.55" height="5.55" fill="#5db35a" stroke="rgba(0,0,0,0.25)" stroke-width="0.6"/>
<rect x="2024.40" y="1112.25" width="1.94" height="5.55" fill="#5db35a"/>
<rect x="2044.05" y="1112.25" width="5.55" height="5.55" fill="#5db35a" stroke="rgba(0,0,0,0.25)" stroke-width="0.6"/>
<rect x="2050.60" y="1112.25" width="5.55" height="5.55" fill="#5db35a" stroke="rgba(0,0,0,0.25)" stroke-width="0.6"/>
<rect x="2057.15" y="1112.25" width="5.55" height="5.55" fill="#5db35a" stroke="rgba(0,0,0,0.25)" stroke-width="0.6"/>
<rect x="2011.30" y="1118.80" width="5.55" height="5.55" fill="#5db35a" stroke="rgba(0,0,0,0.25)" stroke-width="0.6"/>
<rect x="2050.60" y="1118.80" width="5.55" height="5.55" fill="#5db35a" stroke="rgba(0,0,0,0.25)" stroke-width="0.6"/>
<rect x="2057.15" y="1118.80" width="5.55" height="5.55" fill="#5db35a" stroke="rgba(0,0,0,0.25)" stroke-width="0.6"/>
<rect x="2063.70" y="1118.80" width="5.55" height="5.55" fill="#5db35a" stroke="rgba(0,0,0,0.25)" stroke-width="0.6"/>
<rect x="2011.30" y="1125.35" width="5.55" height="5.55" fill="#5db35a" stroke="rgba(0,0,0,0.25)" stroke-width="0.6"/>
<rect x="2057.15" y="1125.35" width="5.55" height="5.55" fill="#5db35a" stroke="rgba(0,0,0,0.25)" stroke-width="0.6"/>
<rect x="2063.70" y="1125.35" width="5.55" height="5.55" fill="#5db35a" stroke="rgba(0,0,0,0.25)" stroke-width="0.6"/>
<rect x="2063.70" y="1131.90" width="5.55" height="5.55" fill="#5db35a" stroke="rgba(0,0,0,0.25)" stroke-width="0.6"/>
<rect x="2070.25" y="1131.90" width="5.55" height="5.55" fill="#5db35a" stroke="rgba(0,0,0,0.25)" stroke-width="0.6"/>
<rect x="2011.30" y="1138.45" width="5.55" height="5.55" fill="#5db35a" stroke="rgba(0,0,0,0.25)" stroke-width="0.6"/>
<rect x="2070.25" y="1138.45" width="5.55" height="5.55" fill="#5db35a" stroke="rgba(0,0,0,0.25)" stroke-width="0.6"/>
<rect x="2076.80" y="1145.00" width="5.55" height="5.55" fill="#5db35a" stroke="rgba(0,0,0,0.25)" stroke-width="0.6"/>
<rect x="2119.8" y="1078.0" width="87.1" height="87.1" fill="#15183a"/>
<rect x="2121.30" y="1079.50" width="5.55" height="5.55" fill="#377eba"/>
<rect x="2121.30" y="1079.50" width="5.55" height="5.55" fill="none" stroke="rgba(0,0,0,0.35)" stroke-width="0.7"/>
<rect x="2127.85" y="1079.50" width="5.55" height="5.55" fill="#377eba"/>
<rect x="2127.85" y="1079.50" width="5.55" height="5.55" fill="none" stroke="rgba(0,0,0,0.35)" stroke-width="0.7"/>
<rect x="2134.40" y="1079.50" width="5.55" height="5.55" fill="#377eba"/>
<rect x="2134.40" y="1079.50" width="5.55" height="5.55" fill="none" stroke="rgba(0,0,0,0.35)" stroke-width="0.7"/>
<rect x="2140.95" y="1079.50" width="5.55" height="5.55" fill="#377eba"/>
<rect x="2140.95" y="1079.50" width="5.55" height="5.55" fill="none" stroke="rgba(0,0,0,0.35)" stroke-width="0.7"/>
<rect x="2147.50" y="1079.50" width="5.55" height="5.55" fill="#c3a92d"/>
<rect x="2147.50" y="1079.50" width="5.55" height="5.55" fill="none" stroke="rgba(0,0,0,0.35)" stroke-width="0.7"/>
<rect x="2154.05" y="1079.50" width="5.55" height="5.55" fill="#c3a92d"/>
<rect x="2154.05" y="1079.50" width="5.55" height="5.55" fill="none" stroke="rgba(0,0,0,0.35)" stroke-width="0.7"/>
<rect x="2160.60" y="1079.50" width="1.39" height="5.55" fill="#377eba"/>
<rect x="2161.99" y="1079.50" width="4.16" height="5.55" fill="#c3a92d"/>
<rect x="2160.60" y="1079.50" width="5.55" height="5.55" fill="none" stroke="rgba(0,0,0,0.35)" stroke-width="0.7"/>
<rect x="2167.15" y="1079.50" width="5.55" height="5.55" fill="#c3a92d"/>
<rect x="2167.15" y="1079.50" width="5.55" height="5.55" fill="none" stroke="rgba(0,0,0,0.35)" stroke-width="0.7"/>
<rect x="2173.70" y="1079.50" width="5.55" height="5.55" fill="#c3a92d"/>
<rect x="2173.70" y="1079.50" width="5.55" height="5.55" fill="none" stroke="rgba(0,0,0,0.35)" stroke-width="0.7"/>
<rect x="2180.25" y="1079.50" width="5.55" height="5.55" fill="#c3a92d"/>
<rect x="2180.25" y="1079.50" width="5.55" height="5.55" fill="none" stroke="rgba(0,0,0,0.35)" stroke-width="0.7"/>
<rect x="2186.80" y="1079.50" width="5.55" height="5.55" fill="#c3a92d"/>
<rect x="2186.80" y="1079.50" width="5.55" height="5.55" fill="none" stroke="rgba(0,0,0,0.35)" stroke-width="0.7"/>
<rect x="2193.35" y="1079.50" width="5.55" height="5.55" fill="#c3a92d"/>
<rect x="2193.35" y="1079.50" width="5.55" height="5.55" fill="none" stroke="rgba(0,0,0,0.35)" stroke-width="0.7"/>
<rect x="2199.90" y="1079.50" width="5.55" height="5.55" fill="#c3a92d"/>
<rect x="2199.90" y="1079.50" width="5.55" height="5.55" fill="none" stroke="rgba(0,0,0,0.35)" stroke-width="0.7"/>
<rect x="2121.30" y="1086.05" width="4.16" height="5.55" fill="#a84034"/>
<rect x="2125.46" y="1086.05" width="1.39" height="5.55" fill="#377eba"/>
<rect x="2121.30" y="1086.05" width="5.55" height="5.55" fill="none" stroke="rgba(0,0,0,0.35)" stroke-width="0.7"/>
<rect x="2127.85" y="1086.05" width="5.55" height="5.55" fill="#377eba"/>
<rect x="2127.85" y="1086.05" width="5.55" height="5.55" fill="none" stroke="rgba(0,0,0,0.35)" stroke-width="0.7"/>
<rect x="2134.40" y="1086.05" width="5.55" height="5.55" fill="#c3a92d"/>
<rect x="2134.40" y="1086.05" width="5.55" height="5.55" fill="none" stroke="rgba(0,0,0,0.35)" stroke-width="0.7"/>
<rect x="2140.95" y="1086.05" width="5.55" height="5.55" fill="#c3a92d"/>
<rect x="2140.95" y="1086.05" width="5.55" height="5.55" fill="none" stroke="rgba(0,0,0,0.35)" stroke-width="0.7"/>
<rect x="2147.50" y="1086.05" width="5.55" height="5.55" fill="#c3a92d"/>
<rect x="2147.50" y="1086.05" width="5.55" height="5.55" fill="none" stroke="rgba(0,0,0,0.35)" stroke-width="0.7"/>
<rect x="2154.05" y="1086.05" width="5.55" height="5.55" fill="#c3a92d"/>
<rect x="2154.05" y="1086.05" width="5.55" height="5.55" fill="none" stroke="rgba(0,0,0,0.35)" stroke-width="0.7"/>
<rect x="2160.60" y="1086.05" width="2.77" height="5.55" fill="#a84034"/>
<rect x="2163.38" y="1086.05" width="2.77" height="5.55" fill="#c3a92d"/>
<rect x="2160.60" y="1086.05" width="5.55" height="5.55" fill="none" stroke="rgba(0,0,0,0.35)" stroke-width="0.7"/>
<rect x="2167.15" y="1086.05" width="5.55" height="5.55" fill="#a84034"/>
<rect x="2167.15" y="1086.05" width="5.55" height="5.55" fill="none" stroke="rgba(0,0,0,0.35)" stroke-width="0.7"/>
<rect x="2173.70" y="1086.05" width="5.55" height="5.55" fill="#c3a92d"/>
<rect x="2173.70" y="1086.05" width="5.55" height="5.55" fill="none" stroke="rgba(0,0,0,0.35)" stroke-width="0.7"/>
<rect x="2180.25" y="1086.05" width="5.55" height="5.55" fill="#c3a92d"/>
<rect x="2180.25" y="1086.05" width="5.55" height="5.55" fill="none" stroke="rgba(0,0,0,0.35)" stroke-width="0.7"/>
<rect x="2186.80" y="1086.05" width="5.55" height="5.55" fill="#c3a92d"/>
<rect x="2186.80" y="1086.05" width="5.55" height="5.55" fill="none" stroke="rgba(0,0,0,0.35)" stroke-width="0.7"/>
<rect x="2193.35" y="1086.05" width="5.55" height="5.55" fill="#c3a92d"/>
<rect x="2193.35" y="1086.05" width="5.55" height="5.55" fill="none" stroke="rgba(0,0,0,0.35)" stroke-width="0.7"/>
<rect x="2199.90" y="1086.05" width="5.55" height="5.55" fill="#c3a92d"/>
<rect x="2199.90" y="1086.05" width="5.55" height="5.55" fill="none" stroke="rgba(0,0,0,0.35)" stroke-width="0.7"/>
<rect x="2121.30" y="1092.60" width="5.55" height="5.55" fill="#a84034"/>
<rect x="2121.30" y="1092.60" width="5.55" height="5.55" fill="none" stroke="rgba(0,0,0,0.35)" stroke-width="0.7"/>
<rect x="2127.85" y="1092.60" width="2.77" height="5.55" fill="#a84034"/>
<rect x="2130.63" y="1092.60" width="2.77" height="5.55" fill="#c3a92d"/>
<rect x="2127.85" y="1092.60" width="5.55" height="5.55" fill="none" stroke="rgba(0,0,0,0.35)" stroke-width="0.7"/>
<rect x="2134.40" y="1092.60" width="5.55" height="5.55" fill="#377eba"/>
<rect x="2134.40" y="1092.60" width="5.55" height="5.55" fill="none" stroke="rgba(0,0,0,0.35)" stroke-width="0.7"/>
<rect x="2140.95" y="1092.60" width="5.55" height="5.55" fill="#c3a92d"/>
<rect x="2140.95" y="1092.60" width="5.55" height="5.55" fill="none" stroke="rgba(0,0,0,0.35)" stroke-width="0.7"/>
<rect x="2147.50" y="1092.60" width="5.55" height="5.55" fill="#c3a92d"/>
<rect x="2147.50" y="1092.60" width="5.55" height="5.55" fill="none" stroke="rgba(0,0,0,0.35)" stroke-width="0.7"/>
<rect x="2154.05" y="1092.60" width="4.16" height="5.55" fill="#a84034"/>
<rect x="2158.21" y="1092.60" width="1.39" height="5.55" fill="#c3a92d"/>
<rect x="2154.05" y="1092.60" width="5.55" height="5.55" fill="none" stroke="rgba(0,0,0,0.35)" stroke-width="0.7"/>
<rect x="2160.60" y="1092.60" width="5.55" height="5.55" fill="#c3a92d"/>
<rect x="2160.60" y="1092.60" width="5.55" height="5.55" fill="none" stroke="rgba(0,0,0,0.35)" stroke-width="0.7"/>
<rect x="2167.15" y="1092.60" width="5.55" height="5.55" fill="#c3a92d"/>
<rect x="2167.15" y="1092.60" width="5.55" height="5.55" fill="none" stroke="rgba(0,0,0,0.35)" stroke-width="0.7"/>
<rect x="2173.70" y="1092.60" width="5.55" height="5.55" fill="#c3a92d"/>
<rect x="2173.70" y="1092.60" width="5.55" height="5.55" fill="none" stroke="rgba(0,0,0,0.35)" stroke-width="0.7"/>
<rect x="2180.25" y="1092.60" width="5.55" height="5.55" fill="#c3a92d"/>
<rect x="2180.25" y="1092.60" width="5.55" height="5.55" fill="none" stroke="rgba(0,0,0,0.35)" stroke-width="0.7"/>
<rect x="2186.80" y="1092.60" width="5.55" height="5.55" fill="#c3a92d"/>
<rect x="2186.80" y="1092.60" width="5.55" height="5.55" fill="none" stroke="rgba(0,0,0,0.35)" stroke-width="0.7"/>
<rect x="2193.35" y="1092.60" width="5.55" height="5.55" fill="#c3a92d"/>
<rect x="2193.35" y="1092.60" width="5.55" height="5.55" fill="none" stroke="rgba(0,0,0,0.35)" stroke-width="0.7"/>
<rect x="2199.90" y="1092.60" width="5.55" height="5.55" fill="#c3a92d"/>
<rect x="2199.90" y="1092.60" width="5.55" height="5.55" fill="none" stroke="rgba(0,0,0,0.35)" stroke-width="0.7"/>
<rect x="2121.30" y="1099.15" width="5.55" height="5.55" fill="#a84034"/>
<rect x="2121.30" y="1099.15" width="5.55" height="5.55" fill="none" stroke="rgba(0,0,0,0.35)" stroke-width="0.7"/>
<rect x="2127.85" y="1099.15" width="1.39" height="5.55" fill="#a84034"/>
<rect x="2129.24" y="1099.15" width="4.16" height="5.55" fill="#c3a92d"/>
<rect x="2127.85" y="1099.15" width="5.55" height="5.55" fill="none" stroke="rgba(0,0,0,0.35)" stroke-width="0.7"/>
<rect x="2134.40" y="1099.15" width="5.55" height="5.55" fill="#c3a92d"/>
<rect x="2134.40" y="1099.15" width="5.55" height="5.55" fill="none" stroke="rgba(0,0,0,0.35)" stroke-width="0.7"/>
<rect x="2140.95" y="1099.15" width="2.77" height="5.55" fill="#a84034"/>
<rect x="2143.73" y="1099.15" width="2.77" height="5.55" fill="#377eba"/>
<rect x="2140.95" y="1099.15" width="5.55" height="5.55" fill="none" stroke="rgba(0,0,0,0.35)" stroke-width="0.7"/>
<rect x="2147.50" y="1099.15" width="1.39" height="5.55" fill="#377eba"/>
<rect x="2148.89" y="1099.15" width="4.16" height="5.55" fill="#c3a92d"/>
<rect x="2147.50" y="1099.15" width="5.55" height="5.55" fill="none" stroke="rgba(0,0,0,0.35)" stroke-width="0.7"/>
<rect x="2154.05" y="1099.15" width="5.55" height="5.55" fill="#c3a92d"/>
<rect x="2154.05" y="1099.15" width="5.55" height="5.55" fill="none" stroke="rgba(0,0,0,0.35)" stroke-width="0.7"/>
<rect x="2160.60" y="1099.15" width="5.55" height="5.55" fill="#c3a92d"/>
<rect x="2160.60" y="1099.15" width="5.55" height="5.55" fill="none" stroke="rgba(0,0,0,0.35)" stroke-width="0.7"/>
<rect x="2167.15" y="1099.15" width="5.55" height="5.55" fill="#c3a92d"/>
<rect x="2167.15" y="1099.15" width="5.55" height="5.55" fill="none" stroke="rgba(0,0,0,0.35)" stroke-width="0.7"/>
<rect x="2173.70" y="1099.15" width="5.55" height="5.55" fill="#c3a92d"/>
<rect x="2173.70" y="1099.15" width="5.55" height="5.55" fill="none" stroke="rgba(0,0,0,0.35)" stroke-width="0.7"/>
<rect x="2180.25" y="1099.15" width="5.55" height="5.55" fill="#c3a92d"/>
<rect x="2180.25" y="1099.15" width="5.55" height="5.55" fill="none" stroke="rgba(0,0,0,0.35)" stroke-width="0.7"/>
<rect x="2186.80" y="1099.15" width="5.55" height="5.55" fill="#c3a92d"/>
<rect x="2186.80" y="1099.15" width="5.55" height="5.55" fill="none" stroke="rgba(0,0,0,0.35)" stroke-width="0.7"/>
<rect x="2193.35" y="1099.15" width="5.55" height="5.55" fill="#c3a92d"/>
<rect x="2193.35" y="1099.15" width="5.55" height="5.55" fill="none" stroke="rgba(0,0,0,0.35)" stroke-width="0.7"/>
<rect x="2199.90" y="1099.15" width="5.55" height="5.55" fill="#c3a92d"/>
<rect x="2199.90" y="1099.15" width="5.55" height="5.55" fill="none" stroke="rgba(0,0,0,0.35)" stroke-width="0.7"/>
<rect x="2121.30" y="1105.70" width="2.77" height="5.55" fill="#a84034"/>
<rect x="2124.08" y="1105.70" width="2.77" height="5.55" fill="#c3a92d"/>
<rect x="2121.30" y="1105.70" width="5.55" height="5.55" fill="none" stroke="rgba(0,0,0,0.35)" stroke-width="0.7"/>
<rect x="2127.85" y="1105.70" width="5.55" height="5.55" fill="#c3a92d"/>
<rect x="2127.85" y="1105.70" width="5.55" height="5.55" fill="none" stroke="rgba(0,0,0,0.35)" stroke-width="0.7"/>
<rect x="2134.40" y="1105.70" width="5.55" height="5.55" fill="#c3a92d"/>
<rect x="2134.40" y="1105.70" width="5.55" height="5.55" fill="none" stroke="rgba(0,0,0,0.35)" stroke-width="0.7"/>
<rect x="2140.95" y="1105.70" width="5.55" height="5.55" fill="#c3a92d"/>
<rect x="2140.95" y="1105.70" width="5.55" height="5.55" fill="none" stroke="rgba(0,0,0,0.35)" stroke-width="0.7"/>
<rect x="2147.50" y="1105.70" width="4.16" height="5.55" fill="#a84034"/>
<rect x="2151.66" y="1105.70" width="1.39" height="5.55" fill="#377eba"/>
<rect x="2147.50" y="1105.70" width="5.55" height="5.55" fill="none" stroke="rgba(0,0,0,0.35)" stroke-width="0.7"/>
<rect x="2154.05" y="1105.70" width="1.39" height="5.55" fill="#377eba"/>
<rect x="2155.44" y="1105.70" width="4.16" height="5.55" fill="#c3a92d"/>
<rect x="2154.05" y="1105.70" width="5.55" height="5.55" fill="none" stroke="rgba(0,0,0,0.35)" stroke-width="0.7"/>
<rect x="2160.60" y="1105.70" width="5.55" height="5.55" fill="#c3a92d"/>
<rect x="2160.60" y="1105.70" width="5.55" height="5.55" fill="none" stroke="rgba(0,0,0,0.35)" stroke-width="0.7"/>
<rect x="2167.15" y="1105.70" width="5.55" height="5.55" fill="#c3a92d"/>
<rect x="2167.15" y="1105.70" width="5.55" height="5.55" fill="none" stroke="rgba(0,0,0,0.35)" stroke-width="0.7"/>
<rect x="2173.70" y="1105.70" width="5.55" height="5.55" fill="#c3a92d"/>
<rect x="2173.70" y="1105.70" width="5.55" height="5.55" fill="none" stroke="rgba(0,0,0,0.35)" stroke-width="0.7"/>
<rect x="2180.25" y="1105.70" width="5.55" height="5.55" fill="#c3a92d"/>
<rect x="2180.25" y="1105.70" width="5.55" height="5.55" fill="none" stroke="rgba(0,0,0,0.35)" stroke-width="0.7"/>
<rect x="2186.80" y="1105.70" width="5.55" height="5.55" fill="#c3a92d"/>
<rect x="2186.80" y="1105.70" width="5.55" height="5.55" fill="none" stroke="rgba(0,0,0,0.35)" stroke-width="0.7"/>
<rect x="2193.35" y="1105.70" width="5.55" height="5.55" fill="#c3a92d"/>
<rect x="2193.35" y="1105.70" width="5.55" height="5.55" fill="none" stroke="rgba(0,0,0,0.35)" stroke-width="0.7"/>
<rect x="2199.90" y="1105.70" width="5.55" height="5.55" fill="#c3a92d"/>
<rect x="2199.90" y="1105.70" width="5.55" height="5.55" fill="none" stroke="rgba(0,0,0,0.35)" stroke-width="0.7"/>
<rect x="2121.30" y="1112.25" width="5.55" height="5.55" fill="#c3a92d"/>
<rect x="2121.30" y="1112.25" width="5.55" height="5.55" fill="none" stroke="rgba(0,0,0,0.35)" stroke-width="0.7"/>
<rect x="2127.85" y="1112.25" width="1.39" height="5.55" fill="#377eba"/>
<rect x="2129.24" y="1112.25" width="4.16" height="5.55" fill="#c3a92d"/>
<rect x="2127.85" y="1112.25" width="5.55" height="5.55" fill="none" stroke="rgba(0,0,0,0.35)" stroke-width="0.7"/>
<rect x="2134.40" y="1112.25" width="5.55" height="5.55" fill="#c3a92d"/>
<rect x="2134.40" y="1112.25" width="5.55" height="5.55" fill="none" stroke="rgba(0,0,0,0.35)" stroke-width="0.7"/>
<rect x="2140.95" y="1112.25" width="5.55" height="5.55" fill="#c3a92d"/>
<rect x="2140.95" y="1112.25" width="5.55" height="5.55" fill="none" stroke="rgba(0,0,0,0.35)" stroke-width="0.7"/>
<rect x="2147.50" y="1112.25" width="5.55" height="5.55" fill="#c3a92d"/>
<rect x="2147.50" y="1112.25" width="5.55" height="5.55" fill="none" stroke="rgba(0,0,0,0.35)" stroke-width="0.7"/>
<rect x="2154.05" y="1112.25" width="5.55" height="5.55" fill="#a84034"/>
<rect x="2154.05" y="1112.25" width="5.55" height="5.55" fill="none" stroke="rgba(0,0,0,0.35)" stroke-width="0.7"/>
<rect x="2160.60" y="1112.25" width="5.55" height="5.55" fill="#c3a92d"/>
<rect x="2160.60" y="1112.25" width="5.55" height="5.55" fill="none" stroke="rgba(0,0,0,0.35)" stroke-width="0.7"/>
<rect x="2167.15" y="1112.25" width="5.55" height="5.55" fill="#c3a92d"/>
<rect x="2167.15" y="1112.25" width="5.55" height="5.55" fill="none" stroke="rgba(0,0,0,0.35)" stroke-width="0.7"/>
<rect x="2173.70" y="1112.25" width="5.55" height="5.55" fill="#c3a92d"/>
<rect x="2173.70" y="1112.25" width="5.55" height="5.55" fill="none" stroke="rgba(0,0,0,0.35)" stroke-width="0.7"/>
<rect x="2180.25" y="1112.25" width="5.55" height="5.55" fill="#c3a92d"/>
<rect x="2180.25" y="1112.25" width="5.55" height="5.55" fill="none" stroke="rgba(0,0,0,0.35)" stroke-width="0.7"/>
<rect x="2186.80" y="1112.25" width="5.55" height="5.55" fill="#c3a92d"/>
<rect x="2186.80" y="1112.25" width="5.55" height="5.55" fill="none" stroke="rgba(0,0,0,0.35)" stroke-width="0.7"/>
<rect x="2193.35" y="1112.25" width="5.55" height="5.55" fill="#c3a92d"/>
<rect x="2193.35" y="1112.25" width="5.55" height="5.55" fill="none" stroke="rgba(0,0,0,0.35)" stroke-width="0.7"/>
<rect x="2199.90" y="1112.25" width="5.55" height="5.55" fill="#c3a92d"/>
<rect x="2199.90" y="1112.25" width="5.55" height="5.55" fill="none" stroke="rgba(0,0,0,0.35)" stroke-width="0.7"/>
<rect x="2121.30" y="1118.80" width="5.55" height="5.55" fill="#c3a92d"/>
<rect x="2121.30" y="1118.80" width="5.55" height="5.55" fill="none" stroke="rgba(0,0,0,0.35)" stroke-width="0.7"/>
<rect x="2127.85" y="1118.80" width="5.55" height="5.55" fill="#c3a92d"/>
<rect x="2127.85" y="1118.80" width="5.55" height="5.55" fill="none" stroke="rgba(0,0,0,0.35)" stroke-width="0.7"/>
<rect x="2134.40" y="1118.80" width="5.55" height="5.55" fill="#c3a92d"/>
<rect x="2134.40" y="1118.80" width="5.55" height="5.55" fill="none" stroke="rgba(0,0,0,0.35)" stroke-width="0.7"/>
<rect x="2140.95" y="1118.80" width="5.55" height="5.55" fill="#c3a92d"/>
<rect x="2140.95" y="1118.80" width="5.55" height="5.55" fill="none" stroke="rgba(0,0,0,0.35)" stroke-width="0.7"/>
<rect x="2147.50" y="1118.80" width="5.55" height="5.55" fill="#c3a92d"/>
<rect x="2147.50" y="1118.80" width="5.55" height="5.55" fill="none" stroke="rgba(0,0,0,0.35)" stroke-width="0.7"/>
<rect x="2154.05" y="1118.80" width="5.55" height="5.55" fill="#c3a92d"/>
<rect x="2154.05" y="1118.80" width="5.55" height="5.55" fill="none" stroke="rgba(0,0,0,0.35)" stroke-width="0.7"/>
<rect x="2160.60" y="1118.80" width="5.55" height="5.55" fill="#a84034"/>
<rect x="2160.60" y="1118.80" width="5.55" height="5.55" fill="none" stroke="rgba(0,0,0,0.35)" stroke-width="0.7"/>
<rect x="2167.15" y="1118.80" width="5.55" height="5.55" fill="#c3a92d"/>
<rect x="2167.15" y="1118.80" width="5.55" height="5.55" fill="none" stroke="rgba(0,0,0,0.35)" stroke-width="0.7"/>
<rect x="2173.70" y="1118.80" width="5.55" height="5.55" fill="#c3a92d"/>
<rect x="2173.70" y="1118.80" width="5.55" height="5.55" fill="none" stroke="rgba(0,0,0,0.35)" stroke-width="0.7"/>
<rect x="2180.25" y="1118.80" width="5.55" height="5.55" fill="#c3a92d"/>
<rect x="2180.25" y="1118.80" width="5.55" height="5.55" fill="none" stroke="rgba(0,0,0,0.35)" stroke-width="0.7"/>
<rect x="2186.80" y="1118.80" width="5.55" height="5.55" fill="#c3a92d"/>
<rect x="2186.80" y="1118.80" width="5.55" height="5.55" fill="none" stroke="rgba(0,0,0,0.35)" stroke-width="0.7"/>
<rect x="2193.35" y="1118.80" width="5.55" height="5.55" fill="#c3a92d"/>
<rect x="2193.35" y="1118.80" width="5.55" height="5.55" fill="none" stroke="rgba(0,0,0,0.35)" stroke-width="0.7"/>
<rect x="2199.90" y="1118.80" width="5.55" height="5.55" fill="#c3a92d"/>
<rect x="2199.90" y="1118.80" width="5.55" height="5.55" fill="none" stroke="rgba(0,0,0,0.35)" stroke-width="0.7"/>
<rect x="2121.30" y="1125.35" width="1.39" height="5.55" fill="#377eba"/>
<rect x="2122.69" y="1125.35" width="4.16" height="5.55" fill="#c3a92d"/>
<rect x="2121.30" y="1125.35" width="5.55" height="5.55" fill="none" stroke="rgba(0,0,0,0.35)" stroke-width="0.7"/>
<rect x="2127.85" y="1125.35" width="5.55" height="5.55" fill="#c3a92d"/>
<rect x="2127.85" y="1125.35" width="5.55" height="5.55" fill="none" stroke="rgba(0,0,0,0.35)" stroke-width="0.7"/>
<rect x="2134.40" y="1125.35" width="5.55" height="5.55" fill="#c3a92d"/>
<rect x="2134.40" y="1125.35" width="5.55" height="5.55" fill="none" stroke="rgba(0,0,0,0.35)" stroke-width="0.7"/>
<rect x="2140.95" y="1125.35" width="1.39" height="5.55" fill="#377eba"/>
<rect x="2142.34" y="1125.35" width="4.16" height="5.55" fill="#c3a92d"/>
<rect x="2140.95" y="1125.35" width="5.55" height="5.55" fill="none" stroke="rgba(0,0,0,0.35)" stroke-width="0.7"/>
<rect x="2147.50" y="1125.35" width="5.55" height="5.55" fill="#c3a92d"/>
<rect x="2147.50" y="1125.35" width="5.55" height="5.55" fill="none" stroke="rgba(0,0,0,0.35)" stroke-width="0.7"/>
<rect x="2154.05" y="1125.35" width="5.55" height="5.55" fill="#c3a92d"/>
<rect x="2154.05" y="1125.35" width="5.55" height="5.55" fill="none" stroke="rgba(0,0,0,0.35)" stroke-width="0.7"/>
<rect x="2160.60" y="1125.35" width="5.55" height="5.55" fill="#c3a92d"/>
<rect x="2160.60" y="1125.35" width="5.55" height="5.55" fill="none" stroke="rgba(0,0,0,0.35)" stroke-width="0.7"/>
<rect x="2167.15" y="1125.35" width="5.55" height="5.55" fill="#a84034"/>
<rect x="2167.15" y="1125.35" width="5.55" height="5.55" fill="none" stroke="rgba(0,0,0,0.35)" stroke-width="0.7"/>
<rect x="2173.70" y="1125.35" width="5.55" height="5.55" fill="#c3a92d"/>
<rect x="2173.70" y="1125.35" width="5.55" height="5.55" fill="none" stroke="rgba(0,0,0,0.35)" stroke-width="0.7"/>
<rect x="2180.25" y="1125.35" width="5.55" height="5.55" fill="#c3a92d"/>
<rect x="2180.25" y="1125.35" width="5.55" height="5.55" fill="none" stroke="rgba(0,0,0,0.35)" stroke-width="0.7"/>
<rect x="2186.80" y="1125.35" width="5.55" height="5.55" fill="#c3a92d"/>
<rect x="2186.80" y="1125.35" width="5.55" height="5.55" fill="none" stroke="rgba(0,0,0,0.35)" stroke-width="0.7"/>
<rect x="2193.35" y="1125.35" width="5.55" height="5.55" fill="#c3a92d"/>
<rect x="2193.35" y="1125.35" width="5.55" height="5.55" fill="none" stroke="rgba(0,0,0,0.35)" stroke-width="0.7"/>
<rect x="2199.90" y="1125.35" width="5.55" height="5.55" fill="#c3a92d"/>
<rect x="2199.90" y="1125.35" width="5.55" height="5.55" fill="none" stroke="rgba(0,0,0,0.35)" stroke-width="0.7"/>
<rect x="2121.30" y="1131.90" width="1.39" height="5.55" fill="#a84034"/>
<rect x="2122.69" y="1131.90" width="1.39" height="5.55" fill="#377eba"/>
<rect x="2124.07" y="1131.90" width="2.77" height="5.55" fill="#c3a92d"/>
<rect x="2121.30" y="1131.90" width="5.55" height="5.55" fill="none" stroke="rgba(0,0,0,0.35)" stroke-width="0.7"/>
<rect x="2127.85" y="1131.90" width="5.55" height="5.55" fill="#c3a92d"/>
<rect x="2127.85" y="1131.90" width="5.55" height="5.55" fill="none" stroke="rgba(0,0,0,0.35)" stroke-width="0.7"/>
<rect x="2134.40" y="1131.90" width="5.55" height="5.55" fill="#c3a92d"/>
<rect x="2134.40" y="1131.90" width="5.55" height="5.55" fill="none" stroke="rgba(0,0,0,0.35)" stroke-width="0.7"/>
<rect x="2154.05" y="1131.90" width="5.55" height="5.55" fill="#c3a92d"/>
<rect x="2154.05" y="1131.90" width="5.55" height="5.55" fill="none" stroke="rgba(0,0,0,0.35)" stroke-width="0.7"/>
<rect x="2160.60" y="1131.90" width="5.55" height="5.55" fill="#c3a92d"/>
<rect x="2160.60" y="1131.90" width="5.55" height="5.55" fill="none" stroke="rgba(0,0,0,0.35)" stroke-width="0.7"/>
<rect x="2167.15" y="1131.90" width="5.55" height="5.55" fill="#c3a92d"/>
<rect x="2167.15" y="1131.90" width="5.55" height="5.55" fill="none" stroke="rgba(0,0,0,0.35)" stroke-width="0.7"/>
<rect x="2173.70" y="1131.90" width="4.16" height="5.55" fill="#a84034"/>
<rect x="2177.86" y="1131.90" width="1.39" height="5.55" fill="#377eba"/>
<rect x="2173.70" y="1131.90" width="5.55" height="5.55" fill="none" stroke="rgba(0,0,0,0.35)" stroke-width="0.7"/>
<rect x="2180.25" y="1131.90" width="5.55" height="5.55" fill="#c3a92d"/>
<rect x="2180.25" y="1131.90" width="5.55" height="5.55" fill="none" stroke="rgba(0,0,0,0.35)" stroke-width="0.7"/>
<rect x="2186.80" y="1131.90" width="5.55" height="5.55" fill="#c3a92d"/>
<rect x="2186.80" y="1131.90" width="5.55" height="5.55" fill="none" stroke="rgba(0,0,0,0.35)" stroke-width="0.7"/>
<rect x="2193.35" y="1131.90" width="5.55" height="5.55" fill="#c3a92d"/>
<rect x="2193.35" y="1131.90" width="5.55" height="5.55" fill="none" stroke="rgba(0,0,0,0.35)" stroke-width="0.7"/>
<rect x="2199.90" y="1131.90" width="5.55" height="5.55" fill="#c3a92d"/>
<rect x="2199.90" y="1131.90" width="5.55" height="5.55" fill="none" stroke="rgba(0,0,0,0.35)" stroke-width="0.7"/>
<rect x="2121.30" y="1138.45" width="1.39" height="5.55" fill="#a84034"/>
<rect x="2122.69" y="1138.45" width="4.16" height="5.55" fill="#c3a92d"/>
<rect x="2121.30" y="1138.45" width="5.55" height="5.55" fill="none" stroke="rgba(0,0,0,0.35)" stroke-width="0.7"/>
<rect x="2127.85" y="1138.45" width="1.39" height="5.55" fill="#377eba"/>
<rect x="2129.24" y="1138.45" width="4.16" height="5.55" fill="#c3a92d"/>
<rect x="2127.85" y="1138.45" width="5.55" height="5.55" fill="none" stroke="rgba(0,0,0,0.35)" stroke-width="0.7"/>
<rect x="2134.40" y="1138.45" width="1.39" height="5.55" fill="#377eba"/>
<rect x="2135.79" y="1138.45" width="4.16" height="5.55" fill="#c3a92d"/>
<rect x="2134.40" y="1138.45" width="5.55" height="5.55" fill="none" stroke="rgba(0,0,0,0.35)" stroke-width="0.7"/>
<rect x="2167.15" y="1138.45" width="5.55" height="5.55" fill="#c3a92d"/>
<rect x="2167.15" y="1138.45" width="5.55" height="5.55" fill="none" stroke="rgba(0,0,0,0.35)" stroke-width="0.7"/>
<rect x="2173.70" y="1138.45" width="5.55" height="5.55" fill="#c3a92d"/>
<rect x="2173.70" y="1138.45" width="5.55" height="5.55" fill="none" stroke="rgba(0,0,0,0.35)" stroke-width="0.7"/>
<rect x="2180.25" y="1138.45" width="4.16" height="5.55" fill="#a84034"/>
<rect x="2184.41" y="1138.45" width="1.39" height="5.55" fill="#377eba"/>
<rect x="2180.25" y="1138.45" width="5.55" height="5.55" fill="none" stroke="rgba(0,0,0,0.35)" stroke-width="0.7"/>
<rect x="2186.80" y="1138.45" width="5.55" height="5.55" fill="#c3a92d"/>
<rect x="2186.80" y="1138.45" width="5.55" height="5.55" fill="none" stroke="rgba(0,0,0,0.35)" stroke-width="0.7"/>
<rect x="2193.35" y="1138.45" width="5.55" height="5.55" fill="#c3a92d"/>
<rect x="2193.35" y="1138.45" width="5.55" height="5.55" fill="none" stroke="rgba(0,0,0,0.35)" stroke-width="0.7"/>
<rect x="2199.90" y="1138.45" width="5.55" height="5.55" fill="#c3a92d"/>
<rect x="2199.90" y="1138.45" width="5.55" height="5.55" fill="none" stroke="rgba(0,0,0,0.35)" stroke-width="0.7"/>
<rect x="2121.30" y="1145.00" width="5.55" height="5.55" fill="#c3a92d"/>
<rect x="2121.30" y="1145.00" width="5.55" height="5.55" fill="none" stroke="rgba(0,0,0,0.35)" stroke-width="0.7"/>
<rect x="2127.85" y="1145.00" width="5.55" height="5.55" fill="#c3a92d"/>
<rect x="2127.85" y="1145.00" width="5.55" height="5.55" fill="none" stroke="rgba(0,0,0,0.35)" stroke-width="0.7"/>
<rect x="2134.40" y="1145.00" width="1.39" height="5.55" fill="#c3a92d"/>
<rect x="2134.40" y="1145.00" width="5.55" height="5.55" fill="none" stroke="rgba(0,0,0,0.35)" stroke-width="0.7"/>
<rect x="2173.70" y="1145.00" width="5.55" height="5.55" fill="#c3a92d"/>
<rect x="2173.70" y="1145.00" width="5.55" height="5.55" fill="none" stroke="rgba(0,0,0,0.35)" stroke-width="0.7"/>
<rect x="2180.25" y="1145.00" width="5.55" height="5.55" fill="#c3a92d"/>
<rect x="2180.25" y="1145.00" width="5.55" height="5.55" fill="none" stroke="rgba(0,0,0,0.35)" stroke-width="0.7"/>
<rect x="2186.80" y="1145.00" width="5.55" height="5.55" fill="#a84034"/>
<rect x="2186.80" y="1145.00" width="5.55" height="5.55" fill="none" stroke="rgba(0,0,0,0.35)" stroke-width="0.7"/>
<rect x="2193.35" y="1145.00" width="5.55" height="5.55" fill="#c3a92d"/>
<rect x="2193.35" y="1145.00" width="5.55" height="5.55" fill="none" stroke="rgba(0,0,0,0.35)" stroke-width="0.7"/>
<rect x="2199.90" y="1145.00" width="5.55" height="5.55" fill="#c3a92d"/>
<rect x="2199.90" y="1145.00" width="5.55" height="5.55" fill="none" stroke="rgba(0,0,0,0.35)" stroke-width="0.7"/>
<rect x="2121.30" y="1151.55" width="1.39" height="5.55" fill="#377eba"/>
<rect x="2122.69" y="1151.55" width="4.16" height="5.55" fill="#c3a92d"/>
<rect x="2121.30" y="1151.55" width="5.55" height="5.55" fill="none" stroke="rgba(0,0,0,0.35)" stroke-width="0.7"/>
<rect x="2127.85" y="1151.55" width="1.39" height="5.55" fill="#377eba"/>
<rect x="2129.24" y="1151.55" width="4.16" height="5.55" fill="#c3a92d"/>
<rect x="2127.85" y="1151.55" width="5.55" height="5.55" fill="none" stroke="rgba(0,0,0,0.35)" stroke-width="0.7"/>
<rect x="2180.25" y="1151.55" width="5.55" height="5.55" fill="#c3a92d"/>
<rect x="2180.25" y="1151.55" width="5.55" height="5.55" fill="none" stroke="rgba(0,0,0,0.35)" stroke-width="0.7"/>
<rect x="2186.80" y="1151.55" width="4.16" height="5.55" fill="#c3a92d"/>
<rect x="2186.80" y="1151.55" width="5.55" height="5.55" fill="none" stroke="rgba(0,0,0,0.35)" stroke-width="0.7"/>
<rect x="2193.35" y="1151.55" width="5.55" height="5.55" fill="#a84034"/>
<rect x="2193.35" y="1151.55" width="5.55" height="5.55" fill="none" stroke="rgba(0,0,0,0.35)" stroke-width="0.7"/>
<rect x="2199.90" y="1151.55" width="5.55" height="5.55" fill="#c3a92d"/>
<rect x="2199.90" y="1151.55" width="5.55" height="5.55" fill="none" stroke="rgba(0,0,0,0.35)" stroke-width="0.7"/>
<rect x="2121.30" y="1158.10" width="2.77" height="5.55" fill="#377eba"/>
<rect x="2124.08" y="1158.10" width="2.77" height="5.55" fill="#c3a92d"/>
<rect x="2121.30" y="1158.10" width="5.55" height="5.55" fill="none" stroke="rgba(0,0,0,0.35)" stroke-width="0.7"/>
<rect x="2127.85" y="1158.10" width="5.55" height="5.55" fill="#c3a92d"/>
<rect x="2127.85" y="1158.10" width="5.55" height="5.55" fill="none" stroke="rgba(0,0,0,0.35)" stroke-width="0.7"/>
<rect x="2199.90" y="1158.10" width="5.55" height="5.55" fill="#a84034"/>
<rect x="2199.90" y="1158.10" width="5.55" height="5.55" fill="none" stroke="rgba(0,0,0,0.35)" stroke-width="0.7"/>
<rect x="2555" y="55" width="4" height="1227" fill="#1f2026"/>
<rect x="0" y="0" width="2559" height="1" fill="#050506"/>
<rect x="0" y="1" width="2559" height="1" fill="#34373f"/>
</svg>
</body></html>
